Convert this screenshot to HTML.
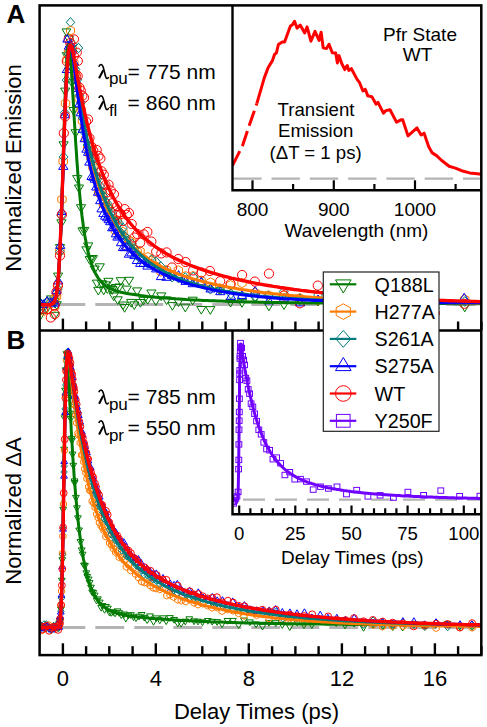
<!DOCTYPE html><html><head><meta charset="utf-8"><style>html,body{margin:0;padding:0;background:#fff;width:487px;height:727px;overflow:hidden}svg{display:block}</style></head><body>
<svg width="487" height="727" viewBox="0 0 487 727" font-family='"Liberation Sans", sans-serif'>
<rect width="487" height="727" fill="#fff"/>
<defs><clipPath id="cA"><rect x="39.6" y="5.4" width="441.7" height="325.0"/></clipPath><clipPath id="cB"><rect x="39.6" y="330.4" width="441.7" height="324.70000000000005"/></clipPath><clipPath id="cC"><rect x="232.5" y="330.4" width="248.8" height="183.89999999999998"/></clipPath><clipPath id="cD"><rect x="232.5" y="5.4" width="248.8" height="184.79999999999998"/></clipPath></defs>
<line x1="39.6" y1="304.6" x2="481.3" y2="304.6" stroke="#b4b4b4" stroke-width="3" stroke-dasharray="29 10" stroke-dashoffset="22.3"/>
<line x1="39.6" y1="627.4" x2="481.3" y2="627.4" stroke="#b4b4b4" stroke-width="3" stroke-dasharray="29 10" stroke-dashoffset="22.3"/>
<g clip-path="url(#cA)">
<g stroke="#007a00" fill="none" stroke-width="1">
<path d="M35.0,313.6h9.2L39.6,321.2z"/>
<path d="M39.0,302.9h9.2L43.6,310.6z"/>
<path d="M42.2,305.5h9.2L46.8,313.2z"/>
<path d="M46.5,295.9h9.2L51.1,303.6z"/>
<path d="M49.7,298.6h9.2L54.3,306.3z"/>
<path d="M50.1,312.3h9.2L54.7,320.0z"/>
<path d="M52.1,301.7h9.2L56.7,309.4z"/>
<path d="M53.5,273.1h9.2L58.1,280.8z"/>
<path d="M55.4,244.6h9.2L60.0,252.3z"/>
<path d="M56.8,219.8h9.2L61.4,227.5z"/>
<path d="M59.0,141.8h9.2L63.6,149.5z"/>
<path d="M60.6,88.1h9.2L65.2,95.8z"/>
<path d="M62.2,52.6h9.2L66.8,60.3z"/>
<path d="M64.3,35.9h9.2L68.9,43.6z"/>
<path d="M65.7,50.4h9.2L70.3,58.0z"/>
<path d="M67.5,79.8h9.2L72.1,87.4z"/>
<path d="M69.0,107.5h9.2L73.6,115.2z"/>
<path d="M71.0,129.7h9.2L75.6,137.4z"/>
<path d="M72.6,175.6h9.2L77.2,183.3z"/>
<path d="M74.4,185.0h9.2L79.0,192.6z"/>
<path d="M76.4,204.7h9.2L81.0,212.4z"/>
<path d="M77.9,227.9h9.2L82.5,235.6z"/>
<path d="M79.7,227.4h9.2L84.3,235.1z"/>
<path d="M81.8,246.8h9.2L86.4,254.5z"/>
<path d="M83.6,242.9h9.2L88.2,250.6z"/>
<path d="M85.1,256.6h9.2L89.7,264.3z"/>
<path d="M86.8,255.7h9.2L91.4,263.3z"/>
<path d="M88.3,255.6h9.2L92.9,263.3z"/>
<path d="M90.0,266.0h9.2L94.6,273.7z"/>
<path d="M92.3,280.1h9.2L96.9,287.8z"/>
<path d="M93.7,287.3h9.2L98.3,295.0z"/>
<path d="M95.2,263.8h9.2L99.8,271.5z"/>
<path d="M97.3,280.7h9.2L101.9,288.4z"/>
<path d="M99.1,287.0h9.2L103.7,294.7z"/>
<path d="M100.8,281.8h9.2L105.4,289.5z"/>
<path d="M102.7,285.8h9.2L107.3,293.4z"/>
<path d="M103.8,278.3h9.2L108.4,286.0z"/>
<path d="M105.9,285.8h9.2L110.5,293.5z"/>
<path d="M107.6,286.7h9.2L112.2,294.4z"/>
<path d="M109.1,293.0h9.2L113.7,300.7z"/>
<path d="M111.2,284.5h9.2L115.8,292.2z"/>
<path d="M113.1,296.8h9.2L117.7,304.5z"/>
<path d="M114.7,284.0h9.2L119.3,291.7z"/>
<path d="M116.2,277.7h9.2L120.8,285.4z"/>
<path d="M118.4,302.0h9.2L123.0,309.7z"/>
<path d="M120.0,304.5h9.2L124.6,312.2z"/>
<path d="M122.1,286.1h9.2L126.7,293.8z"/>
<path d="M124.5,277.3h9.2L129.1,285.0z"/>
<path d="M126.6,299.4h9.2L131.2,307.1z"/>
<path d="M129.7,301.9h9.2L134.3,309.5z"/>
<path d="M132.5,287.9h9.2L137.1,295.6z"/>
<path d="M135.8,299.5h9.2L140.4,307.2z"/>
<path d="M138.9,297.3h9.2L143.5,304.9z"/>
<path d="M143.1,296.5h9.2L147.7,304.2z"/>
<path d="M146.8,290.0h9.2L151.4,297.7z"/>
<path d="M151.2,297.8h9.2L155.8,305.4z"/>
<path d="M156.6,292.9h9.2L161.2,300.6z"/>
<path d="M162.0,296.9h9.2L166.6,304.6z"/>
<path d="M167.8,302.6h9.2L172.4,310.2z"/>
<path d="M173.9,298.9h9.2L178.5,306.6z"/>
<path d="M180.7,304.2h9.2L185.3,311.9z"/>
<path d="M188.1,297.2h9.2L192.7,304.9z"/>
<path d="M196.7,306.5h9.2L201.3,314.1z"/>
<path d="M205.7,306.6h9.2L210.3,314.3z"/>
<path d="M215.6,287.2h9.2L220.2,294.8z"/>
<path d="M225.9,299.3h9.2L230.5,307.0z"/>
<path d="M237.4,299.6h9.2L242.0,307.3z"/>
<path d="M250.4,295.6h9.2L255.0,303.2z"/>
<path d="M264.3,303.1h9.2L268.9,310.8z"/>
<path d="M279.4,301.9h9.2L284.0,309.5z"/>
<path d="M295.3,297.0h9.2L299.9,304.7z"/>
<path d="M313.4,298.3h9.2L318.0,306.0z"/>
<path d="M333.1,309.7h9.2L337.7,317.4z"/>
<path d="M354.0,294.3h9.2L358.6,302.0z"/>
<path d="M377.3,305.5h9.2L381.9,313.2z"/>
<path d="M402.1,309.2h9.2L406.7,316.9z"/>
<path d="M430.0,308.1h9.2L434.6,315.7z"/>
<path d="M460.2,304.1h9.2L464.8,311.8z"/>
</g>
<g stroke="#ff7a00" fill="none" stroke-width="1">
<path d="M39.4,301.5L43.6,303.8L43.6,308.4L39.4,310.7L35.2,308.4L35.2,303.8z"/>
<path d="M43.6,306.5L47.7,308.8L47.7,313.4L43.6,315.7L39.4,313.4L39.4,308.8z"/>
<path d="M47.0,298.5L51.1,300.8L51.1,305.4L47.0,307.7L42.8,305.4L42.8,300.8z"/>
<path d="M51.1,298.9L55.3,301.2L55.3,305.8L51.1,308.1L46.9,305.8L46.9,301.2z"/>
<path d="M54.6,302.0L58.8,304.3L58.8,308.9L54.6,311.2L50.4,308.9L50.4,304.3z"/>
<path d="M54.8,293.4L59.0,295.7L59.0,300.3L54.8,302.6L50.7,300.3L50.7,295.7z"/>
<path d="M56.5,292.2L60.7,294.5L60.7,299.1L56.5,301.4L52.3,299.1L52.3,294.5z"/>
<path d="M58.1,279.9L62.2,282.2L62.2,286.8L58.1,289.1L53.9,286.8L53.9,282.2z"/>
<path d="M59.9,246.7L64.1,249.0L64.1,253.6L59.9,255.9L55.7,253.6L55.7,249.0z"/>
<path d="M62.0,194.8L66.2,197.1L66.2,201.7L62.0,204.0L57.8,201.7L57.8,197.1z"/>
<path d="M63.2,156.8L67.4,159.1L67.4,163.7L63.2,166.0L59.0,163.7L59.0,159.1z"/>
<path d="M65.5,98.8L69.7,101.1L69.7,105.7L65.5,108.0L61.3,105.7L61.3,101.1z"/>
<path d="M67.1,54.9L71.3,57.2L71.3,61.8L67.1,64.1L62.9,61.8L62.9,57.2z"/>
<path d="M68.6,47.4L72.7,49.7L72.7,54.3L68.6,56.6L64.4,54.3L64.4,49.7z"/>
<path d="M70.5,46.3L74.7,48.6L74.7,53.2L70.5,55.5L66.3,53.2L66.3,48.6z"/>
<path d="M72.1,44.0L76.2,46.3L76.2,50.9L72.1,53.2L67.9,50.9L67.9,46.3z"/>
<path d="M73.8,58.3L78.0,60.6L78.0,65.2L73.8,67.5L69.6,65.2L69.6,60.6z"/>
<path d="M75.6,68.8L79.8,71.1L79.8,75.7L75.6,78.0L71.5,75.7L71.5,71.1z"/>
<path d="M77.0,81.0L81.2,83.3L81.2,87.9L77.0,90.2L72.9,87.9L72.9,83.3z"/>
<path d="M79.1,93.8L83.3,96.1L83.3,100.7L79.1,103.0L74.9,100.7L74.9,96.1z"/>
<path d="M81.2,105.5L85.4,107.8L85.4,112.4L81.2,114.7L77.0,112.4L77.0,107.8z"/>
<path d="M82.5,116.3L86.6,118.6L86.6,123.2L82.5,125.5L78.3,123.2L78.3,118.6z"/>
<path d="M84.5,122.3L88.7,124.6L88.7,129.2L84.5,131.5L80.3,129.2L80.3,124.6z"/>
<path d="M86.1,134.1L90.2,136.4L90.2,141.0L86.1,143.3L81.9,141.0L81.9,136.4z"/>
<path d="M87.6,143.1L91.8,145.4L91.8,150.0L87.6,152.3L83.5,150.0L83.5,145.4z"/>
<path d="M89.9,149.4L94.1,151.7L94.1,156.3L89.9,158.6L85.7,156.3L85.7,151.7z"/>
<path d="M91.0,152.7L95.2,155.0L95.2,159.6L91.0,161.9L86.8,159.6L86.8,155.0z"/>
<path d="M92.9,162.7L97.1,165.0L97.1,169.6L92.9,171.9L88.8,169.6L88.8,165.0z"/>
<path d="M95.2,173.0L99.3,175.3L99.3,179.9L95.2,182.2L91.0,179.9L91.0,175.3z"/>
<path d="M96.4,171.7L100.6,174.0L100.6,178.6L96.4,180.9L92.2,178.6L92.2,174.0z"/>
<path d="M98.5,187.2L102.7,189.5L102.7,194.1L98.5,196.4L94.4,194.1L94.4,189.5z"/>
<path d="M100.1,189.1L104.3,191.4L104.3,196.0L100.1,198.3L95.9,196.0L95.9,191.4z"/>
<path d="M102.0,190.5L106.2,192.8L106.2,197.4L102.0,199.7L97.8,197.4L97.8,192.8z"/>
<path d="M103.6,199.8L107.8,202.1L107.8,206.7L103.6,209.0L99.4,206.7L99.4,202.1z"/>
<path d="M105.2,198.5L109.4,200.8L109.4,205.4L105.2,207.7L101.0,205.4L101.0,200.8z"/>
<path d="M107.2,203.5L111.4,205.8L111.4,210.4L107.2,212.7L103.0,210.4L103.0,205.8z"/>
<path d="M108.4,202.7L112.6,205.0L112.6,209.6L108.4,211.9L104.3,209.6L104.3,205.0z"/>
<path d="M110.5,213.5L114.7,215.8L114.7,220.4L110.5,222.7L106.3,220.4L106.3,215.8z"/>
<path d="M112.2,215.7L116.3,218.0L116.3,222.6L112.2,224.9L108.0,222.6L108.0,218.0z"/>
<path d="M114.0,215.5L118.2,217.8L118.2,222.4L114.0,224.7L109.8,222.4L109.8,217.8z"/>
<path d="M115.5,225.9L119.7,228.2L119.7,232.8L115.5,235.1L111.3,232.8L111.3,228.2z"/>
<path d="M117.3,215.7L121.5,218.0L121.5,222.6L117.3,224.9L113.1,222.6L113.1,218.0z"/>
<path d="M119.3,227.9L123.5,230.2L123.5,234.8L119.3,237.1L115.1,234.8L115.1,230.2z"/>
<path d="M120.9,230.3L125.1,232.6L125.1,237.2L120.9,239.5L116.7,237.2L116.7,232.6z"/>
<path d="M122.9,227.3L127.1,229.6L127.1,234.2L122.9,236.5L118.7,234.2L118.7,229.6z"/>
<path d="M124.7,232.9L128.9,235.2L128.9,239.8L124.7,242.1L120.5,239.8L120.5,235.2z"/>
<path d="M126.9,241.9L131.1,244.2L131.1,248.8L126.9,251.1L122.8,248.8L122.8,244.2z"/>
<path d="M129.1,235.7L133.3,238.0L133.3,242.6L129.1,244.9L124.9,242.6L124.9,238.0z"/>
<path d="M131.5,237.4L135.7,239.7L135.7,244.3L131.5,246.6L127.3,244.3L127.3,239.7z"/>
<path d="M133.9,244.6L138.1,246.9L138.1,251.5L133.9,253.8L129.8,251.5L129.8,246.9z"/>
<path d="M137.2,247.0L141.4,249.3L141.4,253.9L137.2,256.2L133.0,253.9L133.0,249.3z"/>
<path d="M140.0,246.6L144.2,248.9L144.2,253.5L140.0,255.8L135.8,253.5L135.8,248.9z"/>
<path d="M143.4,254.3L147.6,256.6L147.6,261.2L143.4,263.5L139.2,261.2L139.2,256.6z"/>
<path d="M147.8,252.5L152.0,254.8L152.0,259.4L147.8,261.7L143.6,259.4L143.6,254.8z"/>
<path d="M151.6,255.9L155.8,258.2L155.8,262.8L151.6,265.1L147.4,262.8L147.4,258.2z"/>
<path d="M156.3,261.8L160.5,264.1L160.5,268.7L156.3,271.0L152.1,268.7L152.1,264.1z"/>
<path d="M161.0,267.0L165.2,269.3L165.2,273.9L161.0,276.2L156.8,273.9L156.8,269.3z"/>
<path d="M166.4,265.3L170.6,267.6L170.6,272.2L166.4,274.5L162.2,272.2L162.2,267.6z"/>
<path d="M171.8,270.0L176.0,272.3L176.0,276.9L171.8,279.2L167.7,276.9L167.7,272.3z"/>
<path d="M178.3,265.7L182.5,268.0L182.5,272.6L178.3,274.9L174.1,272.6L174.1,268.0z"/>
<path d="M185.6,271.4L189.8,273.7L189.8,278.3L185.6,280.6L181.4,278.3L181.4,273.7z"/>
<path d="M193.0,271.4L197.2,273.7L197.2,278.3L193.0,280.6L188.9,278.3L188.9,273.7z"/>
<path d="M201.0,276.0L205.2,278.3L205.2,282.9L201.0,285.2L196.8,282.9L196.8,278.3z"/>
<path d="M210.5,277.9L214.7,280.2L214.7,284.8L210.5,287.1L206.3,284.8L206.3,280.2z"/>
<path d="M219.7,283.7L223.9,286.0L223.9,290.6L219.7,292.9L215.5,290.6L215.5,286.0z"/>
<path d="M230.6,280.5L234.8,282.8L234.8,287.4L230.6,289.7L226.4,287.4L226.4,282.8z"/>
<path d="M242.0,278.4L246.2,280.7L246.2,285.3L242.0,287.6L237.8,285.3L237.8,280.7z"/>
<path d="M255.0,288.0L259.2,290.3L259.2,294.9L255.0,297.2L250.8,294.9L250.8,290.3z"/>
<path d="M268.5,290.7L272.7,293.0L272.7,297.6L268.5,299.9L264.3,297.6L264.3,293.0z"/>
<path d="M283.5,290.8L287.6,293.1L287.6,297.7L283.5,300.0L279.3,297.7L279.3,293.1z"/>
<path d="M299.8,293.5L304.0,295.8L304.0,300.4L299.8,302.7L295.6,300.4L295.6,295.8z"/>
<path d="M317.7,295.7L321.9,298.0L321.9,302.6L317.7,304.9L313.6,302.6L313.6,298.0z"/>
<path d="M337.2,293.8L341.4,296.1L341.4,300.7L337.2,303.0L333.0,300.7L333.0,296.1z"/>
<path d="M358.7,296.5L362.9,298.8L362.9,303.4L358.7,305.7L354.5,303.4L354.5,298.8z"/>
<path d="M381.8,291.1L385.9,293.4L385.9,298.0L381.8,300.3L377.6,298.0L377.6,293.4z"/>
<path d="M407.3,297.2L411.5,299.5L411.5,304.1L407.3,306.4L403.2,304.1L403.2,299.5z"/>
<path d="M434.8,296.6L439.0,298.9L439.0,303.5L434.8,305.8L430.6,303.5L430.6,298.9z"/>
<path d="M464.7,294.9L468.9,297.2L468.9,301.8L464.7,304.1L460.5,301.8L460.5,297.2z"/>
</g>
<g stroke="#007b7b" fill="none" stroke-width="1">
<path d="M39.7,297.5L44.1,302.5L39.7,307.5L35.3,302.5z"/>
<path d="M43.4,302.4L47.7,307.3L43.4,312.3L39.0,307.3z"/>
<path d="M46.7,297.2L51.1,302.1L46.7,307.1L42.4,302.1z"/>
<path d="M50.4,296.7L54.8,301.7L50.4,306.7L46.1,301.7z"/>
<path d="M54.3,297.5L58.6,302.5L54.3,307.4L49.9,302.5z"/>
<path d="M54.5,297.7L58.8,302.7L54.5,307.6L50.1,302.7z"/>
<path d="M56.8,287.9L61.2,292.9L56.8,297.8L52.4,292.9z"/>
<path d="M57.9,284.0L62.2,289.0L57.9,294.0L53.5,289.0z"/>
<path d="M59.9,246.7L64.2,251.7L59.9,256.6L55.5,251.7z"/>
<path d="M61.4,210.6L65.7,215.5L61.4,220.5L57.0,215.5z"/>
<path d="M63.5,152.0L67.9,156.9L63.5,161.9L59.2,156.9z"/>
<path d="M64.9,107.8L69.2,112.8L64.9,117.8L60.5,112.8z"/>
<path d="M66.6,75.1L71.0,80.1L66.6,85.0L62.2,80.1z"/>
<path d="M68.4,48.9L72.7,53.9L68.4,58.9L64.0,53.9z"/>
<path d="M70.2,41.8L74.6,46.7L70.2,51.7L65.9,46.7z"/>
<path d="M72.2,39.3L76.6,44.3L72.2,49.3L67.8,44.3z"/>
<path d="M74.1,63.1L78.5,68.0L74.1,73.0L69.7,68.0z"/>
<path d="M75.5,64.4L79.8,69.4L75.5,74.4L71.1,69.4z"/>
<path d="M77.2,74.9L81.6,79.8L77.2,84.8L72.9,79.8z"/>
<path d="M79.4,90.5L83.7,95.4L79.4,100.4L75.0,95.4z"/>
<path d="M81.0,97.6L85.4,102.6L81.0,107.5L76.7,102.6z"/>
<path d="M82.4,113.0L86.7,117.9L82.4,122.9L78.0,117.9z"/>
<path d="M84.6,127.6L88.9,132.5L84.6,137.5L80.2,132.5z"/>
<path d="M86.3,126.9L90.7,131.9L86.3,136.8L82.0,131.9z"/>
<path d="M87.6,140.0L92.0,145.0L87.6,150.0L83.2,145.0z"/>
<path d="M89.7,145.9L94.0,150.8L89.7,155.8L85.3,150.8z"/>
<path d="M91.1,154.9L95.5,159.9L91.1,164.9L86.7,159.9z"/>
<path d="M92.9,153.7L97.3,158.7L92.9,163.7L88.5,158.7z"/>
<path d="M94.8,161.4L99.2,166.4L94.8,171.3L90.4,166.4z"/>
<path d="M96.6,173.2L100.9,178.2L96.6,183.1L92.2,178.2z"/>
<path d="M98.3,172.8L102.7,177.8L98.3,182.7L93.9,177.8z"/>
<path d="M100.1,181.1L104.4,186.1L100.1,191.0L95.7,186.1z"/>
<path d="M101.6,186.4L106.0,191.4L101.6,196.3L97.2,191.4z"/>
<path d="M103.7,191.5L108.1,196.4L103.7,201.4L99.4,196.4z"/>
<path d="M105.1,196.0L109.5,200.9L105.1,205.9L100.8,200.9z"/>
<path d="M107.3,198.3L111.7,203.3L107.3,208.2L102.9,203.3z"/>
<path d="M108.8,202.7L113.1,207.7L108.8,212.7L104.4,207.7z"/>
<path d="M110.4,208.6L114.7,213.6L110.4,218.5L106.0,213.6z"/>
<path d="M112.0,207.1L116.4,212.0L112.0,217.0L107.7,212.0z"/>
<path d="M114.0,216.8L118.4,221.8L114.0,226.7L109.6,221.8z"/>
<path d="M115.7,216.6L120.0,221.6L115.7,226.5L111.3,221.6z"/>
<path d="M117.6,219.5L121.9,224.4L117.6,229.4L113.2,224.4z"/>
<path d="M119.2,218.4L123.6,223.3L119.2,228.3L114.9,223.3z"/>
<path d="M120.7,227.8L125.0,232.8L120.7,237.8L116.3,232.8z"/>
<path d="M123.0,223.1L127.3,228.1L123.0,233.1L118.6,228.1z"/>
<path d="M124.3,230.8L128.7,235.7L124.3,240.7L119.9,235.7z"/>
<path d="M126.9,235.6L131.3,240.6L126.9,245.6L122.5,240.6z"/>
<path d="M129.2,240.2L133.5,245.2L129.2,250.2L124.8,245.2z"/>
<path d="M131.7,238.7L136.1,243.6L131.7,248.6L127.3,243.6z"/>
<path d="M134.2,243.4L138.6,248.4L134.2,253.3L129.8,248.4z"/>
<path d="M136.8,250.3L141.2,255.2L136.8,260.2L132.4,255.2z"/>
<path d="M140.2,253.6L144.5,258.6L140.2,263.6L135.8,258.6z"/>
<path d="M143.6,254.6L148.0,259.6L143.6,264.6L139.3,259.6z"/>
<path d="M147.6,258.3L151.9,263.2L147.6,268.2L143.2,263.2z"/>
<path d="M151.5,254.8L155.9,259.7L151.5,264.7L147.1,259.7z"/>
<path d="M156.2,256.9L160.6,261.9L156.2,266.8L151.8,261.9z"/>
<path d="M160.8,261.5L165.2,266.5L160.8,271.4L156.4,266.5z"/>
<path d="M166.2,266.3L170.6,271.3L166.2,276.3L161.9,271.3z"/>
<path d="M172.2,272.1L176.6,277.1L172.2,282.0L167.8,277.1z"/>
<path d="M178.5,273.1L182.8,278.0L178.5,283.0L174.1,278.0z"/>
<path d="M185.2,272.6L189.6,277.6L185.2,282.5L180.8,277.6z"/>
<path d="M193.3,272.0L197.7,277.0L193.3,281.9L188.9,277.0z"/>
<path d="M201.4,277.5L205.7,282.5L201.4,287.5L197.0,282.5z"/>
<path d="M210.4,284.1L214.8,289.1L210.4,294.1L206.0,289.1z"/>
<path d="M219.9,285.0L224.2,290.0L219.9,294.9L215.5,290.0z"/>
<path d="M230.9,288.9L235.3,293.8L230.9,298.8L226.6,293.8z"/>
<path d="M242.4,291.7L246.8,296.7L242.4,301.6L238.1,296.7z"/>
<path d="M255.2,291.1L259.6,296.1L255.2,301.1L250.8,296.1z"/>
<path d="M268.5,291.1L272.8,296.0L268.5,301.0L264.1,296.0z"/>
<path d="M283.7,286.5L288.1,291.5L283.7,296.4L279.3,291.5z"/>
<path d="M300.0,293.9L304.4,298.9L300.0,303.8L295.6,298.9z"/>
<path d="M318.0,290.0L322.4,295.0L318.0,300.0L313.7,295.0z"/>
<path d="M337.3,289.3L341.6,294.2L337.3,299.2L332.9,294.2z"/>
<path d="M358.4,296.0L362.8,300.9L358.4,305.9L354.0,300.9z"/>
<path d="M381.8,290.9L386.2,295.8L381.8,300.8L377.4,295.8z"/>
<path d="M407.1,294.5L411.5,299.4L407.1,304.4L402.7,299.4z"/>
<path d="M434.4,298.8L438.8,303.8L434.4,308.7L430.1,303.8z"/>
<path d="M464.8,296.5L469.2,301.5L464.8,306.4L460.4,301.5z"/>
</g>
<g stroke="#0000ff" fill="none" stroke-width="1">
<path d="M35.1,305.2h9.2L39.7,297.5z"/>
<path d="M38.9,307.4h9.2L43.5,299.7z"/>
<path d="M42.7,304.2h9.2L47.3,296.6z"/>
<path d="M46.4,305.7h9.2L51.0,298.1z"/>
<path d="M50.2,306.1h9.2L54.8,298.4z"/>
<path d="M49.8,303.7h9.2L54.4,296.0z"/>
<path d="M51.8,293.6h9.2L56.4,285.9z"/>
<path d="M53.6,283.9h9.2L58.2,276.3z"/>
<path d="M55.6,248.4h9.2L60.2,240.7z"/>
<path d="M57.0,214.6h9.2L61.6,206.9z"/>
<path d="M58.7,169.4h9.2L63.3,161.7z"/>
<path d="M60.2,117.7h9.2L64.8,110.0z"/>
<path d="M62.2,72.5h9.2L66.8,64.8z"/>
<path d="M64.3,49.1h9.2L68.9,41.4z"/>
<path d="M65.5,46.9h9.2L70.1,39.3z"/>
<path d="M67.3,53.1h9.2L71.9,45.4z"/>
<path d="M69.2,64.9h9.2L73.8,57.2z"/>
<path d="M71.1,82.7h9.2L75.7,75.0z"/>
<path d="M72.7,91.4h9.2L77.3,83.8z"/>
<path d="M74.8,106.8h9.2L79.4,99.1z"/>
<path d="M76.1,115.8h9.2L80.7,108.1z"/>
<path d="M78.1,132.3h9.2L82.7,124.6z"/>
<path d="M80.0,141.7h9.2L84.6,134.0z"/>
<path d="M81.8,152.2h9.2L86.4,144.5z"/>
<path d="M83.5,155.4h9.2L88.1,147.7z"/>
<path d="M84.7,165.1h9.2L89.3,157.5z"/>
<path d="M86.9,179.5h9.2L91.5,171.9z"/>
<path d="M88.6,180.2h9.2L93.2,172.6z"/>
<path d="M90.2,182.2h9.2L94.8,174.5z"/>
<path d="M91.6,190.0h9.2L96.2,182.4z"/>
<path d="M93.5,195.3h9.2L98.1,187.6z"/>
<path d="M95.6,203.7h9.2L100.2,196.0z"/>
<path d="M96.9,211.9h9.2L101.5,204.2z"/>
<path d="M98.8,216.6h9.2L103.4,208.9z"/>
<path d="M100.5,219.2h9.2L105.1,211.5z"/>
<path d="M102.6,220.8h9.2L107.2,213.1z"/>
<path d="M104.1,222.7h9.2L108.7,215.0z"/>
<path d="M105.6,224.7h9.2L110.2,217.0z"/>
<path d="M107.6,230.8h9.2L112.2,223.2z"/>
<path d="M109.3,230.4h9.2L113.9,222.7z"/>
<path d="M111.3,236.8h9.2L115.9,229.1z"/>
<path d="M112.8,240.1h9.2L117.4,232.4z"/>
<path d="M114.8,238.9h9.2L119.4,231.2z"/>
<path d="M116.4,245.7h9.2L121.0,238.0z"/>
<path d="M118.4,250.5h9.2L123.0,242.8z"/>
<path d="M120.2,250.7h9.2L124.8,243.0z"/>
<path d="M122.0,249.8h9.2L126.6,242.1z"/>
<path d="M124.3,257.2h9.2L128.9,249.5z"/>
<path d="M126.8,255.9h9.2L131.4,248.2z"/>
<path d="M129.8,258.6h9.2L134.4,250.9z"/>
<path d="M132.2,263.5h9.2L136.8,255.8z"/>
<path d="M135.6,266.4h9.2L140.2,258.7z"/>
<path d="M139.1,266.4h9.2L143.7,258.7z"/>
<path d="M142.8,269.1h9.2L147.4,261.5z"/>
<path d="M147.1,267.1h9.2L151.7,259.4z"/>
<path d="M151.5,271.9h9.2L156.1,264.3z"/>
<path d="M156.3,279.6h9.2L160.9,271.9z"/>
<path d="M161.9,280.3h9.2L166.5,272.6z"/>
<path d="M167.5,278.6h9.2L172.1,271.0z"/>
<path d="M174.0,278.3h9.2L178.6,270.6z"/>
<path d="M181.0,284.4h9.2L185.6,276.7z"/>
<path d="M188.1,286.7h9.2L192.7,279.0z"/>
<path d="M196.5,285.1h9.2L201.1,277.4z"/>
<path d="M205.9,292.0h9.2L210.5,284.3z"/>
<path d="M215.7,294.7h9.2L220.3,287.0z"/>
<path d="M226.4,299.3h9.2L231.0,291.7z"/>
<path d="M237.3,298.6h9.2L241.9,290.9z"/>
<path d="M250.5,294.1h9.2L255.1,286.4z"/>
<path d="M264.4,303.8h9.2L269.0,296.1z"/>
<path d="M279.4,301.2h9.2L284.0,293.6z"/>
<path d="M295.6,305.9h9.2L300.2,298.2z"/>
<path d="M313.5,302.7h9.2L318.1,295.0z"/>
<path d="M333.0,301.4h9.2L337.6,293.7z"/>
<path d="M354.1,304.9h9.2L358.7,297.2z"/>
<path d="M377.4,302.8h9.2L382.0,295.1z"/>
<path d="M402.4,303.1h9.2L407.0,295.4z"/>
<path d="M429.7,304.0h9.2L434.3,296.4z"/>
<path d="M459.6,300.9h9.2L464.2,293.2z"/>
</g>
<g stroke="#ff0000" fill="none" stroke-width="1">
<circle cx="39.7" cy="308.6" r="4.6"/>
<circle cx="43.3" cy="308.6" r="4.6"/>
<circle cx="47.0" cy="309.2" r="4.6"/>
<circle cx="50.8" cy="317.5" r="4.6"/>
<circle cx="54.7" cy="314.1" r="4.6"/>
<circle cx="54.5" cy="305.3" r="4.6"/>
<circle cx="56.5" cy="291.8" r="4.6"/>
<circle cx="57.9" cy="285.6" r="4.6"/>
<circle cx="60.0" cy="255.6" r="4.6"/>
<circle cx="61.9" cy="214.6" r="4.6"/>
<circle cx="63.8" cy="133.2" r="4.6"/>
<circle cx="65.2" cy="116.3" r="4.6"/>
<circle cx="66.8" cy="61.3" r="4.6"/>
<circle cx="68.7" cy="39.0" r="4.6"/>
<circle cx="70.3" cy="43.0" r="4.6"/>
<circle cx="71.9" cy="51.9" r="4.6"/>
<circle cx="73.9" cy="56.1" r="4.6"/>
<circle cx="75.8" cy="76.2" r="4.6"/>
<circle cx="77.7" cy="76.1" r="4.6"/>
<circle cx="79.5" cy="87.7" r="4.6"/>
<circle cx="80.8" cy="90.6" r="4.6"/>
<circle cx="82.4" cy="95.7" r="4.6"/>
<circle cx="84.1" cy="97.6" r="4.6"/>
<circle cx="86.1" cy="121.7" r="4.6"/>
<circle cx="88.1" cy="119.5" r="4.6"/>
<circle cx="89.4" cy="138.1" r="4.6"/>
<circle cx="91.6" cy="146.8" r="4.6"/>
<circle cx="93.2" cy="150.6" r="4.6"/>
<circle cx="94.6" cy="157.8" r="4.6"/>
<circle cx="96.7" cy="150.0" r="4.6"/>
<circle cx="98.5" cy="156.0" r="4.6"/>
<circle cx="100.4" cy="158.6" r="4.6"/>
<circle cx="101.6" cy="171.3" r="4.6"/>
<circle cx="103.8" cy="174.7" r="4.6"/>
<circle cx="105.5" cy="185.1" r="4.6"/>
<circle cx="106.8" cy="192.4" r="4.6"/>
<circle cx="108.6" cy="184.7" r="4.6"/>
<circle cx="110.8" cy="190.6" r="4.6"/>
<circle cx="112.2" cy="203.3" r="4.6"/>
<circle cx="113.9" cy="194.2" r="4.6"/>
<circle cx="115.9" cy="214.8" r="4.6"/>
<circle cx="117.2" cy="205.8" r="4.6"/>
<circle cx="119.2" cy="212.4" r="4.6"/>
<circle cx="120.9" cy="214.2" r="4.6"/>
<circle cx="122.7" cy="221.1" r="4.6"/>
<circle cx="124.7" cy="209.1" r="4.6"/>
<circle cx="126.8" cy="214.8" r="4.6"/>
<circle cx="128.9" cy="213.0" r="4.6"/>
<circle cx="131.7" cy="224.0" r="4.6"/>
<circle cx="134.3" cy="237.5" r="4.6"/>
<circle cx="137.3" cy="234.0" r="4.6"/>
<circle cx="140.2" cy="242.7" r="4.6"/>
<circle cx="143.8" cy="234.3" r="4.6"/>
<circle cx="147.4" cy="231.9" r="4.6"/>
<circle cx="151.4" cy="241.5" r="4.6"/>
<circle cx="156.2" cy="251.7" r="4.6"/>
<circle cx="161.3" cy="253.4" r="4.6"/>
<circle cx="166.6" cy="252.4" r="4.6"/>
<circle cx="172.0" cy="267.5" r="4.6"/>
<circle cx="178.3" cy="259.0" r="4.6"/>
<circle cx="185.6" cy="262.0" r="4.6"/>
<circle cx="193.1" cy="270.4" r="4.6"/>
<circle cx="201.5" cy="272.5" r="4.6"/>
<circle cx="209.9" cy="271.0" r="4.6"/>
<circle cx="220.2" cy="281.2" r="4.6"/>
<circle cx="230.6" cy="283.9" r="4.6"/>
<circle cx="242.1" cy="275.0" r="4.6"/>
<circle cx="254.8" cy="281.6" r="4.6"/>
<circle cx="269.0" cy="273.6" r="4.6"/>
<circle cx="284.0" cy="295.3" r="4.6"/>
<circle cx="299.8" cy="303.3" r="4.6"/>
<circle cx="317.8" cy="285.6" r="4.6"/>
<circle cx="337.6" cy="287.4" r="4.6"/>
<circle cx="358.3" cy="301.5" r="4.6"/>
<circle cx="381.5" cy="308.4" r="4.6"/>
<circle cx="406.7" cy="299.4" r="4.6"/>
<circle cx="434.8" cy="313.1" r="4.6"/>
<circle cx="464.3" cy="303.8" r="4.6"/>
</g>
<path d="M35.1,304.6 35.5,304.6 36.0,304.6 36.5,304.6 36.9,304.6 37.4,304.6 37.9,304.6 38.3,304.6 38.8,304.6 39.3,304.6 39.7,304.6 40.2,304.6 40.6,304.6 41.1,304.6 41.6,304.6 42.0,304.6 42.5,304.6 43.0,304.6 43.4,304.6 43.9,304.6 44.4,304.6 44.8,304.6 45.3,304.6 45.8,304.6 46.2,304.6 46.7,304.6 47.2,304.6 47.6,304.6 48.1,304.6 48.6,304.6 49.0,304.6 49.5,304.6 49.9,304.6 50.4,304.6 50.9,304.5 51.3,304.5 51.8,304.4 52.3,304.3 52.7,304.1 53.2,303.8 53.7,303.5 54.1,303.0 54.6,302.3 55.1,301.3 55.5,300.1 56.0,298.4 56.5,296.2 56.9,293.5 57.4,290.0 57.9,285.7 58.3,280.4 58.8,274.1 59.2,266.7 59.7,258.0 60.2,248.1 60.6,236.9 61.1,224.6 61.6,211.2 62.0,196.8 62.5,181.7 63.0,166.1 63.4,150.3 63.9,134.7 64.4,119.5 64.8,105.0 65.3,91.7 65.8,79.7 66.2,69.3 66.7,60.6 67.2,53.9 67.6,49.0 68.1,46.1 68.5,45.0 69.0,45.7 69.5,47.9 69.9,51.6 70.4,56.5 70.9,62.4 71.3,69.1 71.8,76.4 72.3,84.1 72.7,92.1 73.2,100.3 73.7,108.5 74.1,116.6 74.6,124.5 75.1,132.3 75.5,139.8 76.0,147.0 76.5,154.0 76.9,160.6 77.4,167.0 77.8,173.1 78.3,178.9 78.8,184.4 79.2,189.6 79.7,194.6 80.2,199.3 80.6,203.8 81.1,208.1 81.6,212.2 82.0,216.0 82.5,219.7 83.0,223.2 83.4,226.5 83.9,229.6 84.4,232.6 84.8,235.5 85.3,238.2 85.8,240.8 86.2,243.2 86.7,245.5 87.1,247.7 87.6,249.8 88.1,251.8 88.5,253.7 89.0,255.5 89.5,257.3 89.9,258.9 90.4,260.5 90.9,261.9 91.3,263.4 91.8,264.7 92.3,266.0 92.7,267.2 93.2,268.4 93.7,269.5 94.1,270.5 94.6,271.5 95.1,272.5 95.5,273.4 96.0,274.3 96.4,275.1 96.9,275.9 97.4,276.7 97.8,277.4 98.3,278.1 98.8,278.7 99.2,279.4 99.7,280.0 100.2,280.5 100.6,281.1 101.1,281.6 101.6,282.1 102.0,282.6 102.5,283.1 103.0,283.5 103.4,283.9 103.9,284.3 104.4,284.7 104.8,285.1 105.3,285.4 105.7,285.8 106.2,286.1 106.7,286.4 107.1,286.7 107.6,287.0 108.1,287.3 108.5,287.6 109.0,287.8 109.5,288.1 113.0,289.7 116.4,291.0 119.9,292.0 123.4,292.8 126.9,293.5 130.4,294.1 133.9,294.6 137.4,295.1 140.9,295.6 144.3,296.0 147.8,296.4 151.3,296.7 154.8,297.1 158.3,297.4 161.8,297.7 165.3,298.0 168.8,298.3 172.2,298.5 175.7,298.8 179.2,299.0 182.7,299.2 186.2,299.5 189.7,299.7 193.2,299.9 196.7,300.0 200.1,300.2 203.6,300.4 207.1,300.5 210.6,300.7 214.1,300.8 217.6,301.0 221.1,301.1 224.6,301.2 228.0,301.4 231.5,301.5 235.0,301.6 238.5,301.7 242.0,301.8 245.5,301.9 249.0,302.0 252.5,302.1 255.9,302.1 259.4,302.2 262.9,302.3 266.4,302.4 269.9,302.4 273.4,302.5 276.9,302.5 280.4,302.6 283.8,302.7 287.3,302.7 290.8,302.8 294.3,302.8 297.8,302.8 301.3,302.9 304.8,302.9 308.3,303.0 311.7,303.0 315.2,303.0 318.7,303.1 322.2,303.1 325.7,303.1 329.2,303.2 332.7,303.2 336.2,303.2 339.6,303.2 343.1,303.3 346.6,303.3 350.1,303.3 353.6,303.3 357.1,303.4 360.6,303.4 364.1,303.4 367.5,303.4 371.0,303.4 374.5,303.4 378.0,303.5 381.5,303.5 385.0,303.5 388.5,303.5 392.0,303.5 395.4,303.5 398.9,303.5 402.4,303.5 405.9,303.6 409.4,303.6 412.9,303.6 416.4,303.6 419.9,303.6 423.3,303.6 426.8,303.6 430.3,303.6 433.8,303.6 437.3,303.6 440.8,303.6 444.3,303.6 447.8,303.6 451.2,303.6 454.7,303.7 458.2,303.7 461.7,303.7 465.2,303.7 468.7,303.7 472.2,303.7 475.7,303.7 479.1,303.7 482.6,303.7" stroke="#007a00" stroke-width="3" fill="none" stroke-linejoin="round"/>
<path d="M35.1,304.6 35.5,304.6 36.0,304.6 36.5,304.6 36.9,304.6 37.4,304.6 37.9,304.6 38.3,304.6 38.8,304.6 39.3,304.6 39.7,304.6 40.2,304.6 40.6,304.6 41.1,304.6 41.6,304.6 42.0,304.6 42.5,304.6 43.0,304.6 43.4,304.6 43.9,304.6 44.4,304.6 44.8,304.6 45.3,304.6 45.8,304.6 46.2,304.6 46.7,304.6 47.2,304.6 47.6,304.6 48.1,304.6 48.6,304.6 49.0,304.6 49.5,304.6 49.9,304.5 50.4,304.5 50.9,304.5 51.3,304.4 51.8,304.2 52.3,304.1 52.7,303.8 53.2,303.5 53.7,303.0 54.1,302.3 54.6,301.4 55.1,300.3 55.5,298.7 56.0,296.8 56.5,294.3 56.9,291.2 57.4,287.4 57.9,282.8 58.3,277.3 58.8,270.8 59.2,263.4 59.7,254.8 60.2,245.2 60.6,234.6 61.1,223.1 61.6,210.6 62.0,197.5 62.5,183.9 63.0,169.9 63.4,155.8 63.9,141.9 64.4,128.3 64.8,115.3 65.3,103.1 65.8,91.9 66.2,81.8 66.7,72.9 67.2,65.2 67.6,58.9 68.1,53.8 68.5,50.0 69.0,47.3 69.5,45.7 69.9,45.0 70.4,45.2 70.9,46.1 71.3,47.6 71.8,49.6 72.3,52.0 72.7,54.6 73.2,57.6 73.7,60.6 74.1,63.8 74.6,67.1 75.1,70.4 75.5,73.7 76.0,77.0 76.5,80.3 76.9,83.5 77.4,86.7 77.8,89.8 78.3,92.9 78.8,96.0 79.2,98.9 79.7,101.9 80.2,104.8 80.6,107.6 81.1,110.4 81.6,113.1 82.0,115.8 82.5,118.4 83.0,121.0 83.4,123.5 83.9,126.0 84.4,128.5 84.8,130.9 85.3,133.2 85.8,135.5 86.2,137.8 86.7,140.0 87.1,142.2 87.6,144.4 88.1,146.5 88.5,148.6 89.0,150.6 89.5,152.6 89.9,154.6 90.4,156.5 90.9,158.4 91.3,160.2 91.8,162.1 92.3,163.9 92.7,165.6 93.2,167.4 93.7,169.1 94.1,170.8 94.6,172.4 95.1,174.0 95.5,175.6 96.0,177.2 96.4,178.7 96.9,180.2 97.4,181.7 97.8,183.2 98.3,184.6 98.8,186.0 99.2,187.4 99.7,188.8 100.2,190.1 100.6,191.4 101.1,192.7 101.6,194.0 102.0,195.3 102.5,196.5 103.0,197.7 103.4,198.9 103.9,200.1 104.4,201.2 104.8,202.3 105.3,203.5 105.7,204.6 106.2,205.6 106.7,206.7 107.1,207.7 107.6,208.8 108.1,209.8 108.5,210.8 109.0,211.8 109.5,212.7 113.0,219.5 116.4,225.5 119.9,230.9 123.4,235.7 126.9,240.0 130.4,243.9 133.9,247.5 137.4,250.7 140.9,253.6 144.3,256.3 147.8,258.8 151.3,261.0 154.8,263.1 158.3,265.1 161.8,266.9 165.3,268.6 168.8,270.1 172.2,271.6 175.7,273.0 179.2,274.3 182.7,275.6 186.2,276.7 189.7,277.8 193.2,278.9 196.7,279.9 200.1,280.8 203.6,281.8 207.1,282.6 210.6,283.4 214.1,284.2 217.6,285.0 221.1,285.7 224.6,286.4 228.0,287.1 231.5,287.7 235.0,288.3 238.5,288.9 242.0,289.5 245.5,290.0 249.0,290.6 252.5,291.1 255.9,291.6 259.4,292.0 262.9,292.5 266.4,292.9 269.9,293.3 273.4,293.7 276.9,294.1 280.4,294.5 283.8,294.8 287.3,295.2 290.8,295.5 294.3,295.8 297.8,296.1 301.3,296.4 304.8,296.7 308.3,297.0 311.7,297.3 315.2,297.5 318.7,297.8 322.2,298.0 325.7,298.2 329.2,298.5 332.7,298.7 336.2,298.9 339.6,299.1 343.1,299.3 346.6,299.5 350.1,299.6 353.6,299.8 357.1,300.0 360.6,300.1 364.1,300.3 367.5,300.4 371.0,300.6 374.5,300.7 378.0,300.8 381.5,301.0 385.0,301.1 388.5,301.2 392.0,301.3 395.4,301.4 398.9,301.5 402.4,301.6 405.9,301.7 409.4,301.8 412.9,301.9 416.4,302.0 419.9,302.1 423.3,302.2 426.8,302.2 430.3,302.3 433.8,302.4 437.3,302.5 440.8,302.5 444.3,302.6 447.8,302.7 451.2,302.7 454.7,302.8 458.2,302.8 461.7,302.9 465.2,302.9 468.7,303.0 472.2,303.0 475.7,303.1 479.1,303.1 482.6,303.2" stroke="#ff7a00" stroke-width="3" fill="none" stroke-linejoin="round"/>
<path d="M35.1,304.6 35.5,304.6 36.0,304.6 36.5,304.6 36.9,304.6 37.4,304.6 37.9,304.6 38.3,304.6 38.8,304.6 39.3,304.6 39.7,304.6 40.2,304.6 40.6,304.6 41.1,304.6 41.6,304.6 42.0,304.6 42.5,304.6 43.0,304.6 43.4,304.6 43.9,304.6 44.4,304.6 44.8,304.6 45.3,304.6 45.8,304.6 46.2,304.6 46.7,304.6 47.2,304.6 47.6,304.6 48.1,304.6 48.6,304.6 49.0,304.6 49.5,304.6 49.9,304.5 50.4,304.5 50.9,304.4 51.3,304.4 51.8,304.2 52.3,304.1 52.7,303.8 53.2,303.5 53.7,303.0 54.1,302.3 54.6,301.4 55.1,300.3 55.5,298.7 56.0,296.8 56.5,294.3 56.9,291.2 57.4,287.5 57.9,282.9 58.3,277.4 58.8,271.0 59.2,263.6 59.7,255.1 60.2,245.6 60.6,235.0 61.1,223.5 61.6,211.2 62.0,198.2 62.5,184.6 63.0,170.7 63.4,156.7 63.9,142.9 64.4,129.3 64.8,116.4 65.3,104.2 65.8,92.9 66.2,82.8 66.7,73.8 67.2,66.1 67.6,59.7 68.1,54.5 68.5,50.5 69.0,47.7 69.5,45.9 69.9,45.1 70.4,45.1 70.9,45.8 71.3,47.1 71.8,48.9 72.3,51.1 72.7,53.7 73.2,56.4 73.7,59.3 74.1,62.4 74.6,65.5 75.1,68.6 75.5,71.8 76.0,74.9 76.5,78.1 76.9,81.2 77.4,84.3 77.8,87.3 78.3,90.3 78.8,93.2 79.2,96.1 79.7,99.0 80.2,101.8 80.6,104.5 81.1,107.2 81.6,109.9 82.0,112.5 82.5,115.1 83.0,117.6 83.4,120.1 83.9,122.5 84.4,124.9 84.8,127.3 85.3,129.6 85.8,131.9 86.2,134.1 86.7,136.3 87.1,138.5 87.6,140.6 88.1,142.7 88.5,144.8 89.0,146.8 89.5,148.8 89.9,150.8 90.4,152.7 90.9,154.6 91.3,156.4 91.8,158.3 92.3,160.1 92.7,161.9 93.2,163.6 93.7,165.3 94.1,167.0 94.6,168.7 95.1,170.3 95.5,171.9 96.0,173.5 96.4,175.1 96.9,176.6 97.4,178.2 97.8,179.6 98.3,181.1 98.8,182.6 99.2,184.0 99.7,185.4 100.2,186.8 100.6,188.1 101.1,189.4 101.6,190.8 102.0,192.1 102.5,193.3 103.0,194.6 103.4,195.8 103.9,197.0 104.4,198.2 104.8,199.4 105.3,200.6 105.7,201.7 106.2,202.9 106.7,204.0 107.1,205.1 107.6,206.2 108.1,207.2 108.5,208.3 109.0,209.3 109.5,210.3 113.0,217.5 116.4,224.0 119.9,229.8 123.4,235.1 126.9,239.9 130.4,244.2 133.9,248.2 137.4,251.8 140.9,255.1 144.3,258.2 147.8,261.0 151.3,263.6 154.8,265.9 158.3,268.1 161.8,270.2 165.3,272.1 168.8,273.9 172.2,275.5 175.7,277.1 179.2,278.5 182.7,279.9 186.2,281.1 189.7,282.3 193.2,283.5 196.7,284.5 200.1,285.5 203.6,286.4 207.1,287.3 210.6,288.1 214.1,288.9 217.6,289.6 221.1,290.3 224.6,291.0 228.0,291.6 231.5,292.2 235.0,292.7 238.5,293.3 242.0,293.8 245.5,294.2 249.0,294.7 252.5,295.1 255.9,295.5 259.4,295.9 262.9,296.2 266.4,296.6 269.9,296.9 273.4,297.2 276.9,297.5 280.4,297.8 283.8,298.0 287.3,298.3 290.8,298.5 294.3,298.7 297.8,298.9 301.3,299.1 304.8,299.3 308.3,299.5 311.7,299.7 315.2,299.8 318.7,300.0 322.2,300.1 325.7,300.2 329.2,300.4 332.7,300.5 336.2,300.6 339.6,300.7 343.1,300.8 346.6,300.9 350.1,301.0 353.6,301.1 357.1,301.2 360.6,301.3 364.1,301.3 367.5,301.4 371.0,301.5 374.5,301.6 378.0,301.6 381.5,301.7 385.0,301.7 388.5,301.8 392.0,301.8 395.4,301.9 398.9,301.9 402.4,302.0 405.9,302.0 409.4,302.0 412.9,302.1 416.4,302.1 419.9,302.1 423.3,302.2 426.8,302.2 430.3,302.2 433.8,302.3 437.3,302.3 440.8,302.3 444.3,302.3 447.8,302.4 451.2,302.4 454.7,302.4 458.2,302.4 461.7,302.4 465.2,302.4 468.7,302.5 472.2,302.5 475.7,302.5 479.1,302.5 482.6,302.5" stroke="#007b7b" stroke-width="3" fill="none" stroke-linejoin="round"/>
<path d="M35.1,304.6 35.5,304.6 36.0,304.6 36.5,304.6 36.9,304.6 37.4,304.6 37.9,304.6 38.3,304.6 38.8,304.6 39.3,304.6 39.7,304.6 40.2,304.6 40.6,304.6 41.1,304.6 41.6,304.6 42.0,304.6 42.5,304.6 43.0,304.6 43.4,304.6 43.9,304.6 44.4,304.6 44.8,304.6 45.3,304.6 45.8,304.6 46.2,304.6 46.7,304.6 47.2,304.6 47.6,304.6 48.1,304.6 48.6,304.6 49.0,304.6 49.5,304.6 49.9,304.5 50.4,304.5 50.9,304.4 51.3,304.3 51.8,304.2 52.3,304.0 52.7,303.7 53.2,303.3 53.7,302.7 54.1,302.0 54.6,301.1 55.1,299.8 55.5,298.2 56.0,296.2 56.5,293.6 56.9,290.5 57.4,286.7 57.9,282.1 58.3,276.6 58.8,270.3 59.2,262.9 59.7,254.6 60.2,245.2 60.6,234.9 61.1,223.7 61.6,211.6 62.0,198.8 62.5,185.5 63.0,171.9 63.4,158.1 63.9,144.3 64.4,130.9 64.8,117.9 65.3,105.7 65.8,94.4 66.2,84.0 66.7,74.8 67.2,66.9 67.6,60.2 68.1,54.8 68.5,50.7 69.0,47.7 69.5,45.9 69.9,45.1 70.4,45.2 70.9,46.1 71.3,47.6 71.8,49.8 72.3,52.4 72.7,55.4 73.2,58.7 73.7,62.2 74.1,65.8 74.6,69.5 75.1,73.3 75.5,77.1 76.0,80.8 76.5,84.6 76.9,88.3 77.4,91.9 77.8,95.5 78.3,99.0 78.8,102.5 79.2,105.8 79.7,109.1 80.2,112.3 80.6,115.5 81.1,118.6 81.6,121.6 82.0,124.5 82.5,127.4 83.0,130.2 83.4,133.0 83.9,135.6 84.4,138.3 84.8,140.8 85.3,143.4 85.8,145.8 86.2,148.2 86.7,150.6 87.1,152.9 87.6,155.1 88.1,157.3 88.5,159.5 89.0,161.6 89.5,163.6 89.9,165.7 90.4,167.6 90.9,169.6 91.3,171.5 91.8,173.3 92.3,175.1 92.7,176.9 93.2,178.7 93.7,180.4 94.1,182.1 94.6,183.7 95.1,185.3 95.5,186.9 96.0,188.4 96.4,189.9 96.9,191.4 97.4,192.9 97.8,194.3 98.3,195.7 98.8,197.1 99.2,198.4 99.7,199.7 100.2,201.0 100.6,202.3 101.1,203.5 101.6,204.8 102.0,206.0 102.5,207.1 103.0,208.3 103.4,209.4 103.9,210.5 104.4,211.6 104.8,212.7 105.3,213.8 105.7,214.8 106.2,215.8 106.7,216.8 107.1,217.8 107.6,218.8 108.1,219.7 108.5,220.6 109.0,221.5 109.5,222.4 113.0,228.7 116.4,234.3 119.9,239.3 123.4,243.7 126.9,247.8 130.4,251.4 133.9,254.7 137.4,257.7 140.9,260.5 144.3,263.0 147.8,265.4 151.3,267.6 154.8,269.6 158.3,271.5 161.8,273.3 165.3,275.0 168.8,276.5 172.2,278.0 175.7,279.3 179.2,280.6 182.7,281.8 186.2,283.0 189.7,284.1 193.2,285.1 196.7,286.0 200.1,286.9 203.6,287.8 207.1,288.6 210.6,289.4 214.1,290.1 217.6,290.8 221.1,291.4 224.6,292.1 228.0,292.6 231.5,293.2 235.0,293.7 238.5,294.2 242.0,294.7 245.5,295.1 249.0,295.5 252.5,295.9 255.9,296.3 259.4,296.7 262.9,297.0 266.4,297.3 269.9,297.6 273.4,297.9 276.9,298.2 280.4,298.4 283.8,298.7 287.3,298.9 290.8,299.1 294.3,299.3 297.8,299.5 301.3,299.7 304.8,299.9 308.3,300.1 311.7,300.2 315.2,300.4 318.7,300.5 322.2,300.6 325.7,300.8 329.2,300.9 332.7,301.0 336.2,301.1 339.6,301.2 343.1,301.3 346.6,301.4 350.1,301.5 353.6,301.6 357.1,301.6 360.6,301.7 364.1,301.8 367.5,301.9 371.0,301.9 374.5,302.0 378.0,302.0 381.5,302.1 385.0,302.1 388.5,302.2 392.0,302.2 395.4,302.3 398.9,302.3 402.4,302.4 405.9,302.4 409.4,302.4 412.9,302.5 416.4,302.5 419.9,302.5 423.3,302.5 426.8,302.6 430.3,302.6 433.8,302.6 437.3,302.6 440.8,302.7 444.3,302.7 447.8,302.7 451.2,302.7 454.7,302.7 458.2,302.8 461.7,302.8 465.2,302.8 468.7,302.8 472.2,302.8 475.7,302.8 479.1,302.8 482.6,302.8" stroke="#0000ff" stroke-width="3" fill="none" stroke-linejoin="round"/>
<path d="M35.1,304.6 35.5,304.6 36.0,304.6 36.5,304.6 36.9,304.6 37.4,304.6 37.9,304.6 38.3,304.6 38.8,304.6 39.3,304.6 39.7,304.6 40.2,304.6 40.6,304.6 41.1,304.6 41.6,304.6 42.0,304.6 42.5,304.6 43.0,304.6 43.4,304.6 43.9,304.6 44.4,304.6 44.8,304.6 45.3,304.6 45.8,304.6 46.2,304.6 46.7,304.6 47.2,304.6 47.6,304.6 48.1,304.6 48.6,304.6 49.0,304.6 49.5,304.6 49.9,304.5 50.4,304.5 50.9,304.4 51.3,304.3 51.8,304.2 52.3,304.0 52.7,303.8 53.2,303.4 53.7,302.9 54.1,302.2 54.6,301.2 55.1,300.0 55.5,298.4 56.0,296.4 56.5,293.9 56.9,290.7 57.4,286.8 57.9,282.1 58.3,276.6 58.8,270.1 59.2,262.6 59.7,254.1 60.2,244.5 60.6,234.0 61.1,222.5 61.6,210.3 62.0,197.4 62.5,184.0 63.0,170.3 63.4,156.5 63.9,142.9 64.4,129.6 64.8,116.9 65.3,104.9 65.8,93.9 66.2,83.9 66.7,75.1 67.2,67.4 67.6,61.0 68.1,55.7 68.5,51.6 69.0,48.6 69.5,46.5 69.9,45.4 70.4,45.0 70.9,45.3 71.3,46.1 71.8,47.5 72.3,49.1 72.7,51.1 73.2,53.3 73.7,55.7 74.1,58.2 74.6,60.8 75.1,63.4 75.5,66.0 76.0,68.6 76.5,71.3 76.9,73.9 77.4,76.5 77.8,79.1 78.3,81.6 78.8,84.1 79.2,86.6 79.7,89.0 80.2,91.4 80.6,93.8 81.1,96.1 81.6,98.4 82.0,100.6 82.5,102.9 83.0,105.1 83.4,107.2 83.9,109.3 84.4,111.4 84.8,113.5 85.3,115.5 85.8,117.5 86.2,119.5 86.7,121.5 87.1,123.4 87.6,125.3 88.1,127.1 88.5,129.0 89.0,130.8 89.5,132.6 89.9,134.3 90.4,136.1 90.9,137.8 91.3,139.5 91.8,141.1 92.3,142.8 92.7,144.4 93.2,146.0 93.7,147.5 94.1,149.1 94.6,150.6 95.1,152.1 95.5,153.6 96.0,155.1 96.4,156.5 96.9,157.9 97.4,159.3 97.8,160.7 98.3,162.1 98.8,163.4 99.2,164.7 99.7,166.0 100.2,167.3 100.6,168.6 101.1,169.9 101.6,171.1 102.0,172.3 102.5,173.5 103.0,174.7 103.4,175.9 103.9,177.0 104.4,178.2 104.8,179.3 105.3,180.4 105.7,181.5 106.2,182.6 106.7,183.7 107.1,184.7 107.6,185.7 108.1,186.8 108.5,187.8 109.0,188.8 109.5,189.8 113.0,196.8 116.4,203.1 119.9,208.9 123.4,214.2 126.9,219.0 130.4,223.5 133.9,227.5 137.4,231.3 140.9,234.7 144.3,238.0 147.8,240.9 151.3,243.7 154.8,246.3 158.3,248.7 161.8,251.0 165.3,253.1 168.8,255.1 172.2,257.0 175.7,258.7 179.2,260.4 182.7,262.0 186.2,263.5 189.7,265.0 193.2,266.3 196.7,267.6 200.1,268.9 203.6,270.1 207.1,271.2 210.6,272.3 214.1,273.4 217.6,274.4 221.1,275.4 224.6,276.3 228.0,277.2 231.5,278.1 235.0,278.9 238.5,279.7 242.0,280.5 245.5,281.2 249.0,282.0 252.5,282.6 255.9,283.3 259.4,284.0 262.9,284.6 266.4,285.2 269.9,285.8 273.4,286.4 276.9,286.9 280.4,287.5 283.8,288.0 287.3,288.5 290.8,289.0 294.3,289.5 297.8,289.9 301.3,290.4 304.8,290.8 308.3,291.2 311.7,291.6 315.2,292.0 318.7,292.4 322.2,292.7 325.7,293.1 329.2,293.4 332.7,293.8 336.2,294.1 339.6,294.4 343.1,294.7 346.6,295.0 350.1,295.3 353.6,295.6 357.1,295.9 360.6,296.1 364.1,296.4 367.5,296.6 371.0,296.9 374.5,297.1 378.0,297.3 381.5,297.5 385.0,297.7 388.5,297.9 392.0,298.1 395.4,298.3 398.9,298.5 402.4,298.7 405.9,298.9 409.4,299.1 412.9,299.2 416.4,299.4 419.9,299.5 423.3,299.7 426.8,299.8 430.3,300.0 433.8,300.1 437.3,300.2 440.8,300.4 444.3,300.5 447.8,300.6 451.2,300.7 454.7,300.9 458.2,301.0 461.7,301.1 465.2,301.2 468.7,301.3 472.2,301.4 475.7,301.5 479.1,301.6 482.6,301.7" stroke="#ff0000" stroke-width="3.4" fill="none" stroke-linejoin="round"/>
</g>
<g stroke="#007b7b" fill="none" stroke-width="1"><path d="M70.5,17.5L74.7,22.3L70.5,27.1L66.3,22.3z"/></g>
<g stroke="#ff7a00" fill="none" stroke-width="1"><path d="M70.5,26.1L74.5,28.3L74.5,32.7L70.5,34.9L66.5,32.7L66.5,28.3z"/></g>
<g stroke="#007a00" fill="none" stroke-width="1"><path d="M62.0,28.9h8.8L66.4,36.3z"/></g>
<g stroke="#0000ff" fill="none" stroke-width="1"><path d="M62.8,42.1h8.8L67.2,34.7z"/></g>
<g stroke="#ff0000" fill="none" stroke-width="1"><circle cx="74.2" cy="39.2" r="4.4"/></g>
<g stroke="#ff0000" fill="none" stroke-width="1"><circle cx="77.0" cy="52.5" r="4.4"/></g>
<g stroke="#ff0000" fill="none" stroke-width="1"><circle cx="78.0" cy="61.0" r="4.4"/></g>
<g stroke="#007b7b" fill="none" stroke-width="1"><path d="M78.5,43.2L82.7,48.0L78.5,52.8L74.3,48.0z"/></g>
<g clip-path="url(#cB)">
<g stroke="#007a00" fill="none" stroke-width="1">
<path d="M36.0,624.2h6.8L39.4,629.9z"/>
<path d="M38.4,624.1h6.8L41.8,629.8z"/>
<path d="M41.1,626.5h6.8L44.5,632.2z"/>
<path d="M42.9,626.3h6.8L46.3,632.0z"/>
<path d="M45.6,626.3h6.8L49.0,631.9z"/>
<path d="M48.0,627.6h6.8L51.4,633.3z"/>
<path d="M49.9,626.4h6.8L53.3,632.0z"/>
<path d="M52.2,625.5h6.8L55.6,631.2z"/>
<path d="M54.6,624.0h6.8L58.0,629.7z"/>
<path d="M55.6,621.8h6.8L59.0,627.5z"/>
<path d="M56.2,623.0h6.8L59.6,628.7z"/>
<path d="M56.6,618.0h6.8L60.0,623.6z"/>
<path d="M57.5,607.0h6.8L60.9,612.7z"/>
<path d="M58.4,578.2h6.8L61.8,583.8z"/>
<path d="M58.9,557.7h6.8L62.3,563.4z"/>
<path d="M59.8,507.3h6.8L63.2,513.0z"/>
<path d="M60.7,447.2h6.8L64.1,452.9z"/>
<path d="M61.2,415.8h6.8L64.6,421.5z"/>
<path d="M61.7,388.2h6.8L65.1,393.9z"/>
<path d="M62.3,367.8h6.8L65.7,373.5z"/>
<path d="M63.1,351.7h6.8L66.5,357.4z"/>
<path d="M63.9,356.0h6.8L67.3,361.7z"/>
<path d="M64.8,366.4h6.8L68.2,372.1z"/>
<path d="M65.5,381.3h6.8L68.9,386.9z"/>
<path d="M65.8,384.8h6.8L69.2,390.5z"/>
<path d="M67.0,411.2h6.8L70.4,416.9z"/>
<path d="M67.3,416.4h6.8L70.7,422.1z"/>
<path d="M68.2,436.3h6.8L71.6,442.0z"/>
<path d="M68.5,438.3h6.8L71.9,444.0z"/>
<path d="M69.2,452.1h6.8L72.6,457.8z"/>
<path d="M69.9,463.3h6.8L73.3,469.0z"/>
<path d="M71.1,478.9h6.8L74.5,484.6z"/>
<path d="M71.2,480.6h6.8L74.6,486.3z"/>
<path d="M72.5,495.4h6.8L75.9,501.1z"/>
<path d="M73.5,505.8h6.8L76.9,511.5z"/>
<path d="M74.5,515.8h6.8L77.9,521.5z"/>
<path d="M75.7,528.0h6.8L79.1,533.6z"/>
<path d="M77.0,539.6h6.8L80.4,545.2z"/>
<path d="M78.3,547.9h6.8L81.7,553.6z"/>
<path d="M79.2,552.2h6.8L82.6,557.9z"/>
<path d="M80.6,563.0h6.8L84.0,568.7z"/>
<path d="M81.6,563.5h6.8L85.0,569.2z"/>
<path d="M82.9,570.8h6.8L86.3,576.5z"/>
<path d="M83.9,574.4h6.8L87.3,580.1z"/>
<path d="M85.2,577.1h6.8L88.6,582.8z"/>
<path d="M86.2,580.6h6.8L89.6,586.3z"/>
<path d="M87.6,585.2h6.8L91.0,590.9z"/>
<path d="M88.7,589.9h6.8L92.1,595.6z"/>
<path d="M89.9,590.5h6.8L93.3,596.2z"/>
<path d="M91.3,593.1h6.8L94.7,598.7z"/>
<path d="M93.2,598.2h6.8L96.6,603.9z"/>
<path d="M94.5,596.9h6.8L97.9,602.6z"/>
<path d="M96.3,600.1h6.8L99.7,605.7z"/>
<path d="M97.8,605.5h6.8L101.2,611.2z"/>
<path d="M99.1,603.5h6.8L102.5,609.2z"/>
<path d="M101.2,607.5h6.8L104.6,613.2z"/>
<path d="M102.6,604.5h6.8L106.0,610.2z"/>
<path d="M104.5,606.2h6.8L107.9,611.9z"/>
<path d="M106.1,610.2h6.8L109.5,615.9z"/>
<path d="M107.8,610.7h6.8L111.2,616.3z"/>
<path d="M109.7,609.8h6.8L113.1,615.5z"/>
<path d="M111.7,611.1h6.8L115.1,616.8z"/>
<path d="M114.0,608.9h6.8L117.4,614.6z"/>
<path d="M115.8,610.7h6.8L119.2,616.3z"/>
<path d="M117.9,612.8h6.8L121.3,618.5z"/>
<path d="M120.7,612.0h6.8L124.1,617.7z"/>
<path d="M122.4,616.3h6.8L125.8,621.9z"/>
<path d="M125.0,613.2h6.8L128.4,618.9z"/>
<path d="M127.5,612.7h6.8L130.9,618.4z"/>
<path d="M130.1,614.8h6.8L133.5,620.5z"/>
<path d="M132.6,616.0h6.8L136.0,621.6z"/>
<path d="M135.6,614.2h6.8L139.0,619.9z"/>
<path d="M138.2,612.5h6.8L141.6,618.1z"/>
<path d="M140.9,615.4h6.8L144.3,621.0z"/>
<path d="M143.8,617.8h6.8L147.2,623.5z"/>
<path d="M146.7,613.9h6.8L150.1,619.6z"/>
<path d="M150.1,619.5h6.8L153.5,625.2z"/>
<path d="M152.8,615.9h6.8L156.2,621.6z"/>
<path d="M156.4,618.0h6.8L159.8,623.7z"/>
<path d="M159.7,615.8h6.8L163.1,621.4z"/>
<path d="M162.8,618.9h6.8L166.2,624.6z"/>
<path d="M166.5,615.6h6.8L169.9,621.3z"/>
<path d="M170.7,617.5h6.8L174.1,623.2z"/>
<path d="M174.3,621.1h6.8L177.7,626.8z"/>
<path d="M177.7,621.4h6.8L181.1,627.1z"/>
<path d="M181.9,619.2h6.8L185.3,624.9z"/>
<path d="M185.9,616.8h6.8L189.3,622.4z"/>
<path d="M190.7,618.9h6.8L194.1,624.6z"/>
<path d="M194.6,619.2h6.8L198.0,624.9z"/>
<path d="M199.1,619.9h6.8L202.5,625.6z"/>
<path d="M204.4,618.5h6.8L207.8,624.2z"/>
<path d="M208.8,619.3h6.8L212.2,625.0z"/>
<path d="M213.7,619.6h6.8L217.1,625.3z"/>
<path d="M218.6,621.9h6.8L222.0,627.6z"/>
<path d="M224.1,618.5h6.8L227.5,624.2z"/>
<path d="M229.5,618.4h6.8L232.9,624.1z"/>
<path d="M235.2,622.9h6.8L238.6,628.6z"/>
<path d="M240.5,618.0h6.8L243.9,623.6z"/>
<path d="M246.5,619.9h6.8L249.9,625.6z"/>
<path d="M252.7,622.0h6.8L256.1,627.7z"/>
<path d="M259.1,624.3h6.8L262.5,630.0z"/>
<path d="M265.5,620.4h6.8L268.9,626.1z"/>
<path d="M272.3,620.7h6.8L275.7,626.4z"/>
<path d="M278.9,622.7h6.8L282.3,628.4z"/>
<path d="M286.4,624.8h6.8L289.8,630.5z"/>
<path d="M293.7,620.1h6.8L297.1,625.8z"/>
<path d="M300.6,623.0h6.8L304.0,628.7z"/>
<path d="M308.4,622.9h6.8L311.8,628.6z"/>
<path d="M316.6,619.3h6.8L320.0,624.9z"/>
<path d="M324.9,619.3h6.8L328.3,625.0z"/>
<path d="M332.8,620.8h6.8L336.2,626.5z"/>
<path d="M341.6,623.2h6.8L345.0,628.9z"/>
<path d="M350.7,621.4h6.8L354.1,627.1z"/>
<path d="M360.1,625.5h6.8L363.5,631.2z"/>
<path d="M369.7,622.4h6.8L373.1,628.1z"/>
<path d="M379.5,623.9h6.8L382.9,629.6z"/>
<path d="M389.5,624.8h6.8L392.9,630.5z"/>
<path d="M399.3,625.4h6.8L402.7,631.0z"/>
<path d="M410.6,621.9h6.8L414.0,627.6z"/>
<path d="M421.4,622.7h6.8L424.8,628.4z"/>
<path d="M432.3,622.6h6.8L435.7,628.3z"/>
<path d="M444.1,621.5h6.8L447.5,627.2z"/>
<path d="M456.4,624.3h6.8L459.8,630.0z"/>
<path d="M468.6,625.0h6.8L472.0,630.6z"/>
<path d="M481.4,625.9h6.8L484.8,631.6z"/>
</g>
<g stroke="#ff7a00" fill="none" stroke-width="1">
<path d="M39.4,623.0L42.5,624.7L42.5,628.1L39.4,629.8L36.4,628.1L36.4,624.7z"/>
<path d="M41.9,627.1L45.0,628.8L45.0,632.2L41.9,633.9L38.8,632.2L38.8,628.8z"/>
<path d="M44.1,624.0L47.2,625.7L47.2,629.1L44.1,630.8L41.0,629.1L41.0,625.7z"/>
<path d="M46.7,623.7L49.8,625.4L49.8,628.8L46.7,630.5L43.6,628.8L43.6,625.4z"/>
<path d="M48.6,621.5L51.7,623.2L51.7,626.6L48.6,628.3L45.5,626.6L45.5,623.2z"/>
<path d="M51.1,624.1L54.2,625.8L54.2,629.2L51.1,630.9L48.0,629.2L48.0,625.8z"/>
<path d="M53.4,622.9L56.5,624.6L56.5,628.0L53.4,629.7L50.3,628.0L50.3,624.6z"/>
<path d="M55.7,625.8L58.7,627.5L58.7,630.9L55.7,632.6L52.6,630.9L52.6,627.5z"/>
<path d="M58.4,623.6L61.5,625.3L61.5,628.7L58.4,630.4L55.3,628.7L55.3,625.3z"/>
<path d="M58.7,623.7L61.8,625.4L61.8,628.8L58.7,630.5L55.6,628.8L55.6,625.4z"/>
<path d="M59.5,619.3L62.5,621.0L62.5,624.4L59.5,626.1L56.4,624.4L56.4,621.0z"/>
<path d="M60.0,619.4L63.1,621.1L63.1,624.5L60.0,626.2L56.9,624.5L56.9,621.1z"/>
<path d="M61.2,601.7L64.3,603.4L64.3,606.8L61.2,608.5L58.1,606.8L58.1,603.4z"/>
<path d="M61.6,587.7L64.7,589.4L64.7,592.8L61.6,594.5L58.5,592.8L58.5,589.4z"/>
<path d="M62.5,550.0L65.6,551.7L65.6,555.1L62.5,556.8L59.4,555.1L59.4,551.7z"/>
<path d="M62.9,532.8L66.0,534.5L66.0,537.9L62.9,539.6L59.8,537.9L59.8,534.5z"/>
<path d="M63.4,500.7L66.5,502.4L66.5,505.8L63.4,507.5L60.4,505.8L60.4,502.4z"/>
<path d="M64.4,447.0L67.4,448.7L67.4,452.1L64.4,453.8L61.3,452.1L61.3,448.7z"/>
<path d="M65.4,391.8L68.5,393.5L68.5,396.9L65.4,398.6L62.3,396.9L62.3,393.5z"/>
<path d="M66.1,367.2L69.2,368.9L69.2,372.3L66.1,374.0L63.0,372.3L63.0,368.9z"/>
<path d="M66.5,356.9L69.6,358.6L69.6,362.0L66.5,363.7L63.4,362.0L63.4,358.6z"/>
<path d="M67.5,349.2L70.6,350.9L70.6,354.3L67.5,356.0L64.4,354.3L64.4,350.9z"/>
<path d="M67.7,351.5L70.7,353.2L70.7,356.6L67.7,358.3L64.6,356.6L64.6,353.2z"/>
<path d="M68.7,354.3L71.8,356.0L71.8,359.4L68.7,361.1L65.6,359.4L65.6,356.0z"/>
<path d="M69.2,358.9L72.3,360.6L72.3,364.0L69.2,365.7L66.1,364.0L66.1,360.6z"/>
<path d="M70.0,366.5L73.1,368.2L73.1,371.6L70.0,373.3L66.9,371.6L66.9,368.2z"/>
<path d="M70.6,366.6L73.7,368.3L73.7,371.7L70.6,373.4L67.5,371.7L67.5,368.3z"/>
<path d="M71.7,377.8L74.8,379.5L74.8,382.9L71.7,384.6L68.6,382.9L68.6,379.5z"/>
<path d="M72.0,384.2L75.1,385.9L75.1,389.3L72.0,391.0L68.9,389.3L68.9,385.9z"/>
<path d="M73.2,388.0L76.2,389.7L76.2,393.1L73.2,394.8L70.1,393.1L70.1,389.7z"/>
<path d="M73.3,391.9L76.4,393.6L76.4,397.0L73.3,398.7L70.2,397.0L70.2,393.6z"/>
<path d="M74.2,401.5L77.3,403.2L77.3,406.6L74.2,408.3L71.1,406.6L71.1,403.2z"/>
<path d="M74.4,400.8L77.5,402.5L77.5,405.9L74.4,407.6L71.3,405.9L71.3,402.5z"/>
<path d="M75.8,411.7L78.9,413.4L78.9,416.8L75.8,418.5L72.7,416.8L72.7,413.4z"/>
<path d="M76.7,419.5L79.8,421.2L79.8,424.6L76.7,426.3L73.6,424.6L73.6,421.2z"/>
<path d="M78.0,429.9L81.0,431.6L81.0,435.0L78.0,436.7L74.9,435.0L74.9,431.6z"/>
<path d="M78.8,431.9L81.9,433.6L81.9,437.0L78.8,438.7L75.7,437.0L75.7,433.6z"/>
<path d="M80.2,439.5L83.2,441.2L83.2,444.6L80.2,446.3L77.1,444.6L77.1,441.2z"/>
<path d="M81.6,451.8L84.7,453.5L84.7,456.9L81.6,458.6L78.5,456.9L78.5,453.5z"/>
<path d="M82.3,451.2L85.4,452.9L85.4,456.3L82.3,458.0L79.2,456.3L79.2,452.9z"/>
<path d="M83.7,458.4L86.8,460.1L86.8,463.5L83.7,465.2L80.7,463.5L80.7,460.1z"/>
<path d="M84.8,465.4L87.8,467.1L87.8,470.5L84.8,472.2L81.7,470.5L81.7,467.1z"/>
<path d="M85.9,469.5L89.0,471.2L89.0,474.6L85.9,476.3L82.8,474.6L82.8,471.2z"/>
<path d="M87.0,475.3L90.1,477.0L90.1,480.4L87.0,482.1L83.9,480.4L83.9,477.0z"/>
<path d="M88.7,483.4L91.8,485.1L91.8,488.5L88.7,490.2L85.6,488.5L85.6,485.1z"/>
<path d="M89.8,487.0L92.9,488.7L92.9,492.1L89.8,493.8L86.7,492.1L86.7,488.7z"/>
<path d="M90.9,487.6L94.0,489.3L94.0,492.7L90.9,494.4L87.8,492.7L87.8,489.3z"/>
<path d="M92.2,497.7L95.3,499.4L95.3,502.8L92.2,504.5L89.1,502.8L89.1,499.4z"/>
<path d="M93.8,499.8L96.9,501.5L96.9,504.9L93.8,506.6L90.7,504.9L90.7,501.5z"/>
<path d="M95.1,504.0L98.2,505.7L98.2,509.1L95.1,510.8L92.0,509.1L92.0,505.7z"/>
<path d="M96.7,510.7L99.8,512.4L99.8,515.8L96.7,517.5L93.6,515.8L93.6,512.4z"/>
<path d="M98.2,514.3L101.3,516.0L101.3,519.4L98.2,521.1L95.1,519.4L95.1,516.0z"/>
<path d="M99.4,519.3L102.5,521.0L102.5,524.4L99.4,526.1L96.3,524.4L96.3,521.0z"/>
<path d="M101.1,522.5L104.2,524.2L104.2,527.6L101.1,529.3L98.0,527.6L98.0,524.2z"/>
<path d="M102.6,524.5L105.7,526.2L105.7,529.6L102.6,531.3L99.5,529.6L99.5,526.2z"/>
<path d="M104.1,527.2L107.2,528.9L107.2,532.3L104.1,534.0L101.0,532.3L101.0,528.9z"/>
<path d="M105.9,533.3L109.0,535.0L109.0,538.4L105.9,540.1L102.8,538.4L102.8,535.0z"/>
<path d="M107.9,531.9L111.0,533.6L111.0,537.0L107.9,538.7L104.8,537.0L104.8,533.6z"/>
<path d="M109.6,539.6L112.7,541.3L112.7,544.7L109.6,546.4L106.5,544.7L106.5,541.3z"/>
<path d="M111.5,541.6L114.6,543.3L114.6,546.7L111.5,548.4L108.4,546.7L108.4,543.3z"/>
<path d="M113.3,545.2L116.4,546.9L116.4,550.3L113.3,552.0L110.2,550.3L110.2,546.9z"/>
<path d="M115.6,549.0L118.7,550.7L118.7,554.1L115.6,555.8L112.5,554.1L112.5,550.7z"/>
<path d="M117.5,548.4L120.6,550.1L120.6,553.5L117.5,555.2L114.4,553.5L114.4,550.1z"/>
<path d="M119.2,554.0L122.3,555.7L122.3,559.1L119.2,560.8L116.1,559.1L116.1,555.7z"/>
<path d="M121.8,553.8L124.9,555.5L124.9,558.9L121.8,560.6L118.7,558.9L118.7,555.5z"/>
<path d="M124.1,556.9L127.2,558.6L127.2,562.0L124.1,563.7L121.0,562.0L121.0,558.6z"/>
<path d="M126.3,563.5L129.4,565.2L129.4,568.6L126.3,570.3L123.2,568.6L123.2,565.2z"/>
<path d="M128.4,561.6L131.5,563.3L131.5,566.7L128.4,568.4L125.3,566.7L125.3,563.3z"/>
<path d="M130.8,567.2L133.9,568.9L133.9,572.3L130.8,574.0L127.7,572.3L127.7,568.9z"/>
<path d="M133.2,564.7L136.3,566.4L136.3,569.8L133.2,571.5L130.2,569.8L130.2,566.4z"/>
<path d="M135.7,570.9L138.8,572.6L138.8,576.0L135.7,577.7L132.6,576.0L132.6,572.6z"/>
<path d="M138.6,574.4L141.7,576.1L141.7,579.5L138.6,581.2L135.6,579.5L135.6,576.1z"/>
<path d="M141.7,578.3L144.7,580.0L144.7,583.4L141.7,585.1L138.6,583.4L138.6,580.0z"/>
<path d="M144.4,579.2L147.5,580.9L147.5,584.3L144.4,586.0L141.3,584.3L141.3,580.9z"/>
<path d="M147.2,579.7L150.3,581.4L150.3,584.8L147.2,586.5L144.2,584.8L144.2,581.4z"/>
<path d="M150.4,582.4L153.5,584.1L153.5,587.5L150.4,589.2L147.3,587.5L147.3,584.1z"/>
<path d="M153.3,584.6L156.4,586.3L156.4,589.7L153.3,591.4L150.2,589.7L150.2,586.3z"/>
<path d="M156.2,585.2L159.3,586.9L159.3,590.3L156.2,592.0L153.1,590.3L153.1,586.9z"/>
<path d="M159.9,586.1L163.0,587.8L163.0,591.2L159.9,592.9L156.8,591.2L156.8,587.8z"/>
<path d="M162.9,584.5L166.0,586.2L166.0,589.6L162.9,591.3L159.8,589.6L159.8,586.2z"/>
<path d="M166.8,592.3L169.9,594.0L169.9,597.4L166.8,599.1L163.7,597.4L163.7,594.0z"/>
<path d="M170.0,591.5L173.0,593.2L173.0,596.6L170.0,598.3L166.9,596.6L166.9,593.2z"/>
<path d="M173.5,593.7L176.6,595.4L176.6,598.8L173.5,600.5L170.4,598.8L170.4,595.4z"/>
<path d="M177.7,596.5L180.8,598.2L180.8,601.6L177.7,603.3L174.6,601.6L174.6,598.2z"/>
<path d="M181.2,597.3L184.3,599.0L184.3,602.4L181.2,604.1L178.1,602.4L178.1,599.0z"/>
<path d="M185.7,598.2L188.8,599.9L188.8,603.3L185.7,605.0L182.6,603.3L182.6,599.9z"/>
<path d="M189.6,596.3L192.6,598.0L192.6,601.4L189.6,603.1L186.5,601.4L186.5,598.0z"/>
<path d="M194.1,599.5L197.2,601.2L197.2,604.6L194.1,606.3L191.0,604.6L191.0,601.2z"/>
<path d="M198.0,601.3L201.1,603.0L201.1,606.4L198.0,608.1L194.9,606.4L194.9,603.0z"/>
<path d="M202.8,600.4L205.9,602.1L205.9,605.5L202.8,607.2L199.7,605.5L199.7,602.1z"/>
<path d="M207.6,602.3L210.7,604.0L210.7,607.4L207.6,609.1L204.5,607.4L204.5,604.0z"/>
<path d="M212.0,604.4L215.1,606.1L215.1,609.5L212.0,611.2L208.9,609.5L208.9,606.1z"/>
<path d="M217.3,604.4L220.4,606.1L220.4,609.5L217.3,611.2L214.2,609.5L214.2,606.1z"/>
<path d="M222.1,607.8L225.2,609.5L225.2,612.9L222.1,614.6L219.0,612.9L219.0,609.5z"/>
<path d="M227.4,606.1L230.5,607.8L230.5,611.2L227.4,612.9L224.3,611.2L224.3,607.8z"/>
<path d="M232.9,607.4L236.0,609.1L236.0,612.5L232.9,614.2L229.8,612.5L229.8,609.1z"/>
<path d="M238.6,610.1L241.7,611.8L241.7,615.2L238.6,616.9L235.5,615.2L235.5,611.8z"/>
<path d="M244.0,612.6L247.1,614.3L247.1,617.7L244.0,619.4L240.9,617.7L240.9,614.3z"/>
<path d="M250.0,608.3L253.1,610.0L253.1,613.4L250.0,615.1L246.9,613.4L246.9,610.0z"/>
<path d="M256.5,611.9L259.6,613.6L259.6,617.0L256.5,618.7L253.4,617.0L253.4,613.6z"/>
<path d="M262.7,609.5L265.8,611.2L265.8,614.6L262.7,616.3L259.6,614.6L259.6,611.2z"/>
<path d="M269.0,615.0L272.1,616.7L272.1,620.1L269.0,621.8L265.9,620.1L265.9,616.7z"/>
<path d="M275.5,612.9L278.6,614.6L278.6,618.0L275.5,619.7L272.4,618.0L272.4,614.6z"/>
<path d="M282.6,616.1L285.7,617.8L285.7,621.2L282.6,622.9L279.5,621.2L279.5,617.8z"/>
<path d="M289.5,615.4L292.6,617.1L292.6,620.5L289.5,622.2L286.4,620.5L286.4,617.1z"/>
<path d="M296.7,615.0L299.8,616.7L299.8,620.1L296.7,621.8L293.6,620.1L293.6,616.7z"/>
<path d="M304.6,618.7L307.7,620.4L307.7,623.8L304.6,625.5L301.5,623.8L301.5,620.4z"/>
<path d="M311.8,617.9L314.9,619.6L314.9,623.0L311.8,624.7L308.7,623.0L308.7,619.6z"/>
<path d="M320.2,618.0L323.3,619.7L323.3,623.1L320.2,624.8L317.1,623.1L317.1,619.7z"/>
<path d="M328.2,618.6L331.3,620.3L331.3,623.7L328.2,625.4L325.1,623.7L325.1,620.3z"/>
<path d="M336.7,618.2L339.7,619.9L339.7,623.3L336.7,625.0L333.6,623.3L333.6,619.9z"/>
<path d="M345.4,617.8L348.4,619.5L348.4,622.9L345.4,624.6L342.3,622.9L342.3,619.5z"/>
<path d="M354.3,618.6L357.4,620.3L357.4,623.7L354.3,625.4L351.2,623.7L351.2,620.3z"/>
<path d="M363.6,620.0L366.7,621.7L366.7,625.1L363.6,626.8L360.5,625.1L360.5,621.7z"/>
<path d="M373.1,621.6L376.2,623.3L376.2,626.7L373.1,628.4L370.1,626.7L370.1,623.3z"/>
<path d="M382.4,623.4L385.5,625.1L385.5,628.5L382.4,630.2L379.4,628.5L379.4,625.1z"/>
<path d="M392.4,622.9L395.5,624.6L395.5,628.0L392.4,629.7L389.3,628.0L389.3,624.6z"/>
<path d="M403.3,622.8L406.4,624.5L406.4,627.9L403.3,629.6L400.2,627.9L400.2,624.5z"/>
<path d="M413.5,620.7L416.6,622.4L416.6,625.8L413.5,627.5L410.4,625.8L410.4,622.4z"/>
<path d="M424.5,622.9L427.6,624.6L427.6,628.0L424.5,629.7L421.4,628.0L421.4,624.6z"/>
<path d="M436.2,624.8L439.3,626.5L439.3,629.9L436.2,631.6L433.1,629.9L433.1,626.5z"/>
<path d="M448.0,621.4L451.1,623.1L451.1,626.5L448.0,628.2L444.9,626.5L444.9,623.1z"/>
<path d="M459.9,624.3L463.0,626.0L463.0,629.4L459.9,631.1L456.8,629.4L456.8,626.0z"/>
<path d="M472.1,624.4L475.2,626.1L475.2,629.5L472.1,631.2L469.0,629.5L469.0,626.1z"/>
<path d="M484.7,623.5L487.8,625.2L487.8,628.6L484.7,630.3L481.6,628.6L481.6,625.2z"/>
</g>
<g stroke="#007b7b" fill="none" stroke-width="1">
<path d="M39.9,620.7L43.1,624.3L39.9,628.0L36.7,624.3z"/>
<path d="M42.0,623.3L45.2,627.0L42.0,630.6L38.8,627.0z"/>
<path d="M44.0,620.7L47.2,624.3L44.0,628.0L40.7,624.3z"/>
<path d="M46.3,620.7L49.6,624.3L46.3,628.0L43.1,624.3z"/>
<path d="M48.7,623.9L51.9,627.6L48.7,631.2L45.4,627.6z"/>
<path d="M51.2,625.7L54.4,629.3L51.2,633.0L48.0,629.3z"/>
<path d="M53.8,622.2L57.1,625.9L53.8,629.5L50.6,625.9z"/>
<path d="M55.6,623.9L58.8,627.6L55.6,631.3L52.4,627.6z"/>
<path d="M58.0,624.1L61.2,627.7L58.0,631.4L54.7,627.7z"/>
<path d="M58.7,624.3L61.9,628.0L58.7,631.6L55.5,628.0z"/>
<path d="M59.6,616.8L62.9,620.5L59.6,624.1L56.4,620.5z"/>
<path d="M60.2,615.8L63.5,619.4L60.2,623.1L57.0,619.4z"/>
<path d="M60.9,607.6L64.2,611.2L60.9,614.9L57.7,611.2z"/>
<path d="M61.4,594.4L64.7,598.1L61.4,601.8L58.2,598.1z"/>
<path d="M62.6,550.9L65.8,554.5L62.6,558.2L59.4,554.5z"/>
<path d="M63.1,524.7L66.3,528.4L63.1,532.0L59.8,528.4z"/>
<path d="M64.0,468.3L67.3,472.0L64.0,475.6L60.8,472.0z"/>
<path d="M64.1,462.5L67.4,466.1L64.1,469.8L60.9,466.1z"/>
<path d="M65.1,405.3L68.4,408.9L65.1,412.6L61.9,408.9z"/>
<path d="M65.8,381.3L69.0,385.0L65.8,388.7L62.6,385.0z"/>
<path d="M66.8,354.7L70.0,358.4L66.8,362.0L63.6,358.4z"/>
<path d="M67.4,348.4L70.6,352.1L67.4,355.7L64.2,352.1z"/>
<path d="M68.0,350.0L71.2,353.6L68.0,357.3L64.7,353.6z"/>
<path d="M68.4,351.5L71.7,355.2L68.4,358.9L65.2,355.2z"/>
<path d="M69.5,356.2L72.7,359.9L69.5,363.5L66.3,359.9z"/>
<path d="M70.3,361.3L73.6,364.9L70.3,368.6L67.1,364.9z"/>
<path d="M70.9,367.4L74.2,371.1L70.9,374.7L67.7,371.1z"/>
<path d="M71.8,373.4L75.0,377.0L71.8,380.7L68.5,377.0z"/>
<path d="M72.2,376.8L75.4,380.5L72.2,384.2L69.0,380.5z"/>
<path d="M72.7,379.9L75.9,383.6L72.7,387.3L69.5,383.6z"/>
<path d="M73.4,383.9L76.6,387.6L73.4,391.2L70.1,387.6z"/>
<path d="M74.5,393.6L77.7,397.3L74.5,400.9L71.2,397.3z"/>
<path d="M74.7,394.8L77.9,398.5L74.7,402.2L71.5,398.5z"/>
<path d="M75.7,400.7L79.0,404.4L75.7,408.1L72.5,404.4z"/>
<path d="M77.0,409.8L80.2,413.5L77.0,417.1L73.8,413.5z"/>
<path d="M78.0,414.2L81.2,417.9L78.0,421.5L74.7,417.9z"/>
<path d="M79.4,421.6L82.6,425.3L79.4,429.0L76.1,425.3z"/>
<path d="M80.4,428.3L83.7,432.0L80.4,435.6L77.2,432.0z"/>
<path d="M81.3,433.7L84.5,437.4L81.3,441.0L78.0,437.4z"/>
<path d="M82.7,441.1L85.9,444.8L82.7,448.4L79.4,444.8z"/>
<path d="M83.9,442.7L87.1,446.4L83.9,450.1L80.7,446.4z"/>
<path d="M84.7,448.1L88.0,451.8L84.7,455.5L81.5,451.8z"/>
<path d="M86.4,458.8L89.6,462.5L86.4,466.2L83.2,462.5z"/>
<path d="M87.5,462.9L90.7,466.5L87.5,470.2L84.2,466.5z"/>
<path d="M88.2,461.5L91.4,465.2L88.2,468.9L85.0,465.2z"/>
<path d="M89.5,467.1L92.7,470.7L89.5,474.4L86.3,470.7z"/>
<path d="M90.6,473.6L93.8,477.2L90.6,480.9L87.4,477.2z"/>
<path d="M92.6,478.9L95.8,482.6L92.6,486.2L89.3,482.6z"/>
<path d="M93.4,486.0L96.6,489.7L93.4,493.4L90.2,489.7z"/>
<path d="M95.2,489.6L98.5,493.2L95.2,496.9L92.0,493.2z"/>
<path d="M96.4,492.1L99.7,495.7L96.4,499.4L93.2,495.7z"/>
<path d="M97.6,499.7L100.8,503.4L97.6,507.0L94.4,503.4z"/>
<path d="M99.2,502.6L102.5,506.3L99.2,509.9L96.0,506.3z"/>
<path d="M100.8,504.3L104.1,508.0L100.8,511.6L97.6,508.0z"/>
<path d="M102.8,508.7L106.0,512.4L102.8,516.0L99.6,512.4z"/>
<path d="M104.2,514.8L107.4,518.5L104.2,522.2L100.9,518.5z"/>
<path d="M105.7,516.9L108.9,520.6L105.7,524.2L102.5,520.6z"/>
<path d="M108.0,519.7L111.3,523.4L108.0,527.1L104.8,523.4z"/>
<path d="M109.5,526.0L112.8,529.7L109.5,533.4L106.3,529.7z"/>
<path d="M111.1,530.6L114.3,534.3L111.1,537.9L107.9,534.3z"/>
<path d="M113.6,533.1L116.9,536.8L113.6,540.5L110.4,536.8z"/>
<path d="M115.4,536.7L118.7,540.3L115.4,544.0L112.2,540.3z"/>
<path d="M117.3,536.9L120.5,540.6L117.3,544.2L114.1,540.6z"/>
<path d="M119.2,541.6L122.4,545.3L119.2,549.0L116.0,545.3z"/>
<path d="M121.7,546.9L125.0,550.5L121.7,554.2L118.5,550.5z"/>
<path d="M123.5,545.0L126.8,548.7L123.5,552.4L120.3,548.7z"/>
<path d="M126.4,552.4L129.7,556.1L126.4,559.8L123.2,556.1z"/>
<path d="M128.7,553.5L131.9,557.1L128.7,560.8L125.4,557.1z"/>
<path d="M131.1,555.8L134.3,559.5L131.1,563.1L127.8,559.5z"/>
<path d="M133.6,558.3L136.8,561.9L133.6,565.6L130.4,561.9z"/>
<path d="M136.3,561.8L139.5,565.5L136.3,569.2L133.0,565.5z"/>
<path d="M138.6,563.4L141.9,567.0L138.6,570.7L135.4,567.0z"/>
<path d="M141.6,567.0L144.9,570.7L141.6,574.3L138.4,570.7z"/>
<path d="M144.0,571.1L147.2,574.8L144.0,578.5L140.7,574.8z"/>
<path d="M147.3,571.7L150.5,575.3L147.3,579.0L144.0,575.3z"/>
<path d="M150.3,573.8L153.5,577.5L150.3,581.1L147.1,577.5z"/>
<path d="M153.0,575.6L156.2,579.2L153.0,582.9L149.8,579.2z"/>
<path d="M156.1,577.0L159.3,580.7L156.1,584.4L152.9,580.7z"/>
<path d="M159.9,580.5L163.2,584.2L159.9,587.9L156.7,584.2z"/>
<path d="M163.3,579.2L166.5,582.9L163.3,586.5L160.1,582.9z"/>
<path d="M166.2,580.3L169.5,584.0L166.2,587.7L163.0,584.0z"/>
<path d="M170.1,587.8L173.4,591.4L170.1,595.1L166.9,591.4z"/>
<path d="M173.5,586.4L176.8,590.0L173.5,593.7L170.3,590.0z"/>
<path d="M177.3,589.2L180.6,592.9L177.3,596.6L174.1,592.9z"/>
<path d="M181.8,592.8L185.0,596.5L181.8,600.2L178.5,596.5z"/>
<path d="M185.6,590.6L188.8,594.3L185.6,598.0L182.4,594.3z"/>
<path d="M189.8,593.9L193.0,597.5L189.8,601.2L186.6,597.5z"/>
<path d="M193.7,594.8L197.0,598.5L193.7,602.1L190.5,598.5z"/>
<path d="M198.5,596.8L201.7,600.4L198.5,604.1L195.2,600.4z"/>
<path d="M202.9,595.3L206.2,598.9L202.9,602.6L199.7,598.9z"/>
<path d="M207.4,596.3L210.6,599.9L207.4,603.6L204.1,599.9z"/>
<path d="M212.3,599.2L215.5,602.8L212.3,606.5L209.0,602.8z"/>
<path d="M217.1,599.7L220.3,603.3L217.1,607.0L213.8,603.3z"/>
<path d="M222.4,602.3L225.6,605.9L222.4,609.6L219.2,605.9z"/>
<path d="M227.4,602.9L230.6,606.6L227.4,610.3L224.1,606.6z"/>
<path d="M232.9,605.6L236.2,609.2L232.9,612.9L229.7,609.2z"/>
<path d="M238.8,605.4L242.0,609.1L238.8,612.8L235.6,609.1z"/>
<path d="M244.4,607.7L247.6,611.3L244.4,615.0L241.2,611.3z"/>
<path d="M250.3,606.9L253.5,610.6L250.3,614.2L247.0,610.6z"/>
<path d="M256.0,607.0L259.2,610.7L256.0,614.4L252.8,610.7z"/>
<path d="M262.8,608.9L266.0,612.6L262.8,616.2L259.5,612.6z"/>
<path d="M269.1,608.3L272.3,612.0L269.1,615.7L265.9,612.0z"/>
<path d="M276.0,608.2L279.2,611.9L276.0,615.6L272.7,611.9z"/>
<path d="M282.8,614.9L286.0,618.6L282.8,622.3L279.6,618.6z"/>
<path d="M289.9,612.7L293.1,616.4L289.9,620.1L286.6,616.4z"/>
<path d="M296.8,614.4L300.1,618.1L296.8,621.7L293.6,618.1z"/>
<path d="M304.5,614.9L307.7,618.6L304.5,622.3L301.3,618.6z"/>
<path d="M311.7,617.0L315.0,620.7L311.7,624.4L308.5,620.7z"/>
<path d="M319.6,615.4L322.9,619.0L319.6,622.7L316.4,619.0z"/>
<path d="M328.3,616.5L331.6,620.2L328.3,623.8L325.1,620.2z"/>
<path d="M336.7,617.7L339.9,621.3L336.7,625.0L333.4,621.3z"/>
<path d="M345.5,617.6L348.8,621.3L345.5,624.9L342.3,621.3z"/>
<path d="M354.0,618.6L357.3,622.3L354.0,626.0L350.8,622.3z"/>
<path d="M363.4,621.1L366.6,624.7L363.4,628.4L360.1,624.7z"/>
<path d="M373.1,616.8L376.3,620.4L373.1,624.1L369.8,620.4z"/>
<path d="M382.7,619.4L385.9,623.1L382.7,626.8L379.5,623.1z"/>
<path d="M392.9,620.9L396.1,624.5L392.9,628.2L389.7,624.5z"/>
<path d="M403.0,619.1L406.2,622.8L403.0,626.5L399.7,622.8z"/>
<path d="M413.9,621.0L417.2,624.7L413.9,628.4L410.7,624.7z"/>
<path d="M424.9,623.2L428.2,626.9L424.9,630.5L421.7,626.9z"/>
<path d="M436.3,619.0L439.5,622.7L436.3,626.4L433.1,622.7z"/>
<path d="M447.6,623.5L450.8,627.1L447.6,630.8L444.4,627.1z"/>
<path d="M460.0,621.3L463.2,625.0L460.0,628.6L456.7,625.0z"/>
<path d="M471.9,620.9L475.2,624.6L471.9,628.3L468.7,624.6z"/>
<path d="M484.9,619.1L488.1,622.7L484.9,626.4L481.6,622.7z"/>
</g>
<g stroke="#0000ff" fill="none" stroke-width="1">
<path d="M36.0,630.9h6.8L39.4,625.2z"/>
<path d="M38.7,630.7h6.8L42.1,625.0z"/>
<path d="M40.6,629.2h6.8L44.0,623.5z"/>
<path d="M43.5,628.3h6.8L46.9,622.6z"/>
<path d="M45.6,629.9h6.8L49.0,624.3z"/>
<path d="M48.1,631.9h6.8L51.5,626.2z"/>
<path d="M50.2,628.7h6.8L53.6,623.1z"/>
<path d="M52.4,628.9h6.8L55.8,623.2z"/>
<path d="M54.7,625.9h6.8L58.1,620.2z"/>
<path d="M55.8,629.3h6.8L59.2,623.6z"/>
<path d="M56.2,622.6h6.8L59.6,616.9z"/>
<path d="M56.8,618.4h6.8L60.2,612.7z"/>
<path d="M57.4,614.1h6.8L60.8,608.4z"/>
<path d="M58.0,597.2h6.8L61.4,591.6z"/>
<path d="M58.9,568.7h6.8L62.3,563.1z"/>
<path d="M59.6,531.2h6.8L63.0,525.5z"/>
<path d="M60.6,478.2h6.8L64.0,472.5z"/>
<path d="M60.8,463.5h6.8L64.2,457.8z"/>
<path d="M61.7,414.5h6.8L65.1,408.8z"/>
<path d="M62.2,395.1h6.8L65.6,389.4z"/>
<path d="M63.0,369.7h6.8L66.4,364.0z"/>
<path d="M63.9,358.2h6.8L67.3,352.5z"/>
<path d="M64.8,354.3h6.8L68.2,348.6z"/>
<path d="M65.0,353.6h6.8L68.4,347.9z"/>
<path d="M65.7,359.3h6.8L69.1,353.6z"/>
<path d="M66.8,365.8h6.8L70.2,360.1z"/>
<path d="M67.4,369.6h6.8L70.8,363.9z"/>
<path d="M67.8,375.3h6.8L71.2,369.7z"/>
<path d="M68.9,379.7h6.8L72.3,374.0z"/>
<path d="M69.8,386.0h6.8L73.2,380.3z"/>
<path d="M70.3,389.6h6.8L73.7,383.9z"/>
<path d="M71.2,396.8h6.8L74.6,391.1z"/>
<path d="M71.2,398.3h6.8L74.6,392.6z"/>
<path d="M72.1,401.1h6.8L75.5,395.4z"/>
<path d="M73.6,408.8h6.8L77.0,403.2z"/>
<path d="M74.6,412.8h6.8L78.0,407.1z"/>
<path d="M75.4,417.6h6.8L78.8,411.9z"/>
<path d="M76.8,424.1h6.8L80.2,418.5z"/>
<path d="M78.4,433.7h6.8L81.8,428.1z"/>
<path d="M79.3,437.0h6.8L82.7,431.4z"/>
<path d="M80.3,443.7h6.8L83.7,438.1z"/>
<path d="M81.7,448.6h6.8L85.1,442.9z"/>
<path d="M82.8,453.0h6.8L86.2,447.3z"/>
<path d="M83.6,454.8h6.8L87.0,449.1z"/>
<path d="M85.0,463.0h6.8L88.4,457.3z"/>
<path d="M86.5,471.1h6.8L89.9,465.4z"/>
<path d="M87.3,469.6h6.8L90.7,464.0z"/>
<path d="M88.9,478.9h6.8L92.3,473.2z"/>
<path d="M90.0,481.2h6.8L93.4,475.5z"/>
<path d="M91.5,486.5h6.8L94.9,480.8z"/>
<path d="M93.2,492.9h6.8L96.6,487.3z"/>
<path d="M94.4,492.7h6.8L97.8,487.1z"/>
<path d="M96.3,499.1h6.8L99.7,493.4z"/>
<path d="M97.7,505.1h6.8L101.1,499.4z"/>
<path d="M99.3,507.9h6.8L102.7,502.2z"/>
<path d="M100.6,511.9h6.8L104.0,506.3z"/>
<path d="M102.5,514.7h6.8L105.9,509.0z"/>
<path d="M104.6,520.8h6.8L108.0,515.1z"/>
<path d="M106.2,524.8h6.8L109.6,519.2z"/>
<path d="M107.7,527.5h6.8L111.1,521.9z"/>
<path d="M109.9,531.4h6.8L113.3,525.7z"/>
<path d="M111.9,533.6h6.8L115.3,528.0z"/>
<path d="M113.9,539.1h6.8L117.3,533.4z"/>
<path d="M116.0,540.9h6.8L119.4,535.2z"/>
<path d="M118.4,543.7h6.8L121.8,538.0z"/>
<path d="M120.4,544.3h6.8L123.8,538.6z"/>
<path d="M123.0,549.2h6.8L126.4,543.5z"/>
<path d="M125.4,556.5h6.8L128.8,550.9z"/>
<path d="M127.8,557.2h6.8L131.2,551.5z"/>
<path d="M130.2,559.6h6.8L133.6,554.0z"/>
<path d="M132.3,560.6h6.8L135.7,554.9z"/>
<path d="M134.9,561.1h6.8L138.3,555.5z"/>
<path d="M137.8,565.1h6.8L141.2,559.5z"/>
<path d="M140.8,571.9h6.8L144.2,566.3z"/>
<path d="M143.6,570.7h6.8L147.0,565.0z"/>
<path d="M146.5,573.2h6.8L149.9,567.5z"/>
<path d="M150.1,575.3h6.8L153.5,569.6z"/>
<path d="M152.9,575.6h6.8L156.3,569.9z"/>
<path d="M156.0,581.6h6.8L159.4,575.9z"/>
<path d="M159.6,580.1h6.8L163.0,574.4z"/>
<path d="M163.4,586.7h6.8L166.8,581.0z"/>
<path d="M166.8,585.6h6.8L170.2,580.0z"/>
<path d="M170.7,586.9h6.8L174.1,581.3z"/>
<path d="M173.9,586.1h6.8L177.3,580.4z"/>
<path d="M178.2,592.1h6.8L181.6,586.4z"/>
<path d="M182.0,595.2h6.8L185.4,589.5z"/>
<path d="M186.1,592.9h6.8L189.5,587.2z"/>
<path d="M190.5,596.7h6.8L193.9,591.0z"/>
<path d="M194.9,594.5h6.8L198.3,588.8z"/>
<path d="M199.6,599.7h6.8L203.0,594.0z"/>
<path d="M203.9,601.3h6.8L207.3,595.6z"/>
<path d="M208.9,599.2h6.8L212.3,593.5z"/>
<path d="M213.8,602.4h6.8L217.2,596.8z"/>
<path d="M219.0,602.2h6.8L222.4,596.6z"/>
<path d="M224.2,607.5h6.8L227.6,601.8z"/>
<path d="M229.3,603.5h6.8L232.7,597.9z"/>
<path d="M235.4,608.5h6.8L238.8,602.8z"/>
<path d="M241.0,607.3h6.8L244.4,601.6z"/>
<path d="M246.5,611.4h6.8L249.9,605.7z"/>
<path d="M252.9,613.4h6.8L256.3,607.7z"/>
<path d="M259.4,612.3h6.8L262.8,606.6z"/>
<path d="M265.9,612.6h6.8L269.3,606.9z"/>
<path d="M272.2,611.2h6.8L275.6,605.6z"/>
<path d="M278.9,614.2h6.8L282.3,608.5z"/>
<path d="M286.5,614.5h6.8L289.9,608.9z"/>
<path d="M293.6,615.5h6.8L297.0,609.8z"/>
<path d="M301.0,614.4h6.8L304.4,608.8z"/>
<path d="M308.5,619.5h6.8L311.9,613.9z"/>
<path d="M316.8,616.9h6.8L320.2,611.2z"/>
<path d="M324.5,619.9h6.8L327.9,614.2z"/>
<path d="M333.4,620.0h6.8L336.8,614.3z"/>
<path d="M342.0,622.0h6.8L345.4,616.3z"/>
<path d="M350.8,619.8h6.8L354.2,614.1z"/>
<path d="M359.9,624.4h6.8L363.3,618.7z"/>
<path d="M369.6,625.1h6.8L373.0,619.4z"/>
<path d="M379.1,623.8h6.8L382.5,618.1z"/>
<path d="M389.2,625.8h6.8L392.6,620.1z"/>
<path d="M399.5,623.2h6.8L402.9,617.6z"/>
<path d="M410.5,623.3h6.8L413.9,617.7z"/>
<path d="M421.1,626.5h6.8L424.5,620.8z"/>
<path d="M432.6,624.4h6.8L436.0,618.7z"/>
<path d="M444.2,627.1h6.8L447.6,621.4z"/>
<path d="M456.6,626.4h6.8L460.0,620.7z"/>
<path d="M468.4,626.6h6.8L471.8,620.9z"/>
<path d="M481.4,624.0h6.8L484.8,618.3z"/>
</g>
<g stroke="#ff0000" fill="none" stroke-width="1">
<circle cx="39.9" cy="625.9" r="3.4"/>
<circle cx="42.1" cy="629.5" r="3.4"/>
<circle cx="44.3" cy="626.9" r="3.4"/>
<circle cx="46.7" cy="625.8" r="3.4"/>
<circle cx="49.1" cy="630.8" r="3.4"/>
<circle cx="50.9" cy="627.8" r="3.4"/>
<circle cx="53.8" cy="626.9" r="3.4"/>
<circle cx="55.6" cy="627.4" r="3.4"/>
<circle cx="58.2" cy="629.9" r="3.4"/>
<circle cx="58.9" cy="625.5" r="3.4"/>
<circle cx="59.8" cy="623.9" r="3.4"/>
<circle cx="60.1" cy="619.0" r="3.4"/>
<circle cx="61.1" cy="605.0" r="3.4"/>
<circle cx="61.9" cy="585.4" r="3.4"/>
<circle cx="62.3" cy="569.0" r="3.4"/>
<circle cx="63.1" cy="527.4" r="3.4"/>
<circle cx="63.7" cy="493.1" r="3.4"/>
<circle cx="64.7" cy="439.3" r="3.4"/>
<circle cx="65.4" cy="398.2" r="3.4"/>
<circle cx="65.9" cy="379.9" r="3.4"/>
<circle cx="66.2" cy="371.2" r="3.4"/>
<circle cx="67.6" cy="353.8" r="3.4"/>
<circle cx="68.0" cy="354.4" r="3.4"/>
<circle cx="68.4" cy="355.1" r="3.4"/>
<circle cx="69.5" cy="358.2" r="3.4"/>
<circle cx="70.0" cy="365.8" r="3.4"/>
<circle cx="70.5" cy="362.8" r="3.4"/>
<circle cx="71.3" cy="372.2" r="3.4"/>
<circle cx="72.2" cy="374.4" r="3.4"/>
<circle cx="72.7" cy="379.2" r="3.4"/>
<circle cx="73.3" cy="385.9" r="3.4"/>
<circle cx="73.9" cy="387.8" r="3.4"/>
<circle cx="74.4" cy="391.6" r="3.4"/>
<circle cx="75.8" cy="399.7" r="3.4"/>
<circle cx="76.7" cy="404.3" r="3.4"/>
<circle cx="77.9" cy="413.7" r="3.4"/>
<circle cx="79.3" cy="421.6" r="3.4"/>
<circle cx="80.4" cy="426.6" r="3.4"/>
<circle cx="81.8" cy="435.4" r="3.4"/>
<circle cx="82.8" cy="438.3" r="3.4"/>
<circle cx="84.1" cy="443.1" r="3.4"/>
<circle cx="84.9" cy="446.8" r="3.4"/>
<circle cx="86.3" cy="452.7" r="3.4"/>
<circle cx="87.6" cy="459.2" r="3.4"/>
<circle cx="88.1" cy="459.0" r="3.4"/>
<circle cx="89.7" cy="469.7" r="3.4"/>
<circle cx="91.1" cy="472.6" r="3.4"/>
<circle cx="92.1" cy="475.8" r="3.4"/>
<circle cx="93.3" cy="477.6" r="3.4"/>
<circle cx="95.0" cy="483.5" r="3.4"/>
<circle cx="96.1" cy="486.8" r="3.4"/>
<circle cx="97.7" cy="492.8" r="3.4"/>
<circle cx="99.1" cy="495.1" r="3.4"/>
<circle cx="101.2" cy="504.4" r="3.4"/>
<circle cx="102.3" cy="505.2" r="3.4"/>
<circle cx="104.5" cy="514.1" r="3.4"/>
<circle cx="106.0" cy="510.9" r="3.4"/>
<circle cx="107.7" cy="514.8" r="3.4"/>
<circle cx="109.3" cy="522.4" r="3.4"/>
<circle cx="111.3" cy="526.9" r="3.4"/>
<circle cx="113.1" cy="531.9" r="3.4"/>
<circle cx="115.6" cy="535.9" r="3.4"/>
<circle cx="117.3" cy="535.7" r="3.4"/>
<circle cx="119.1" cy="539.0" r="3.4"/>
<circle cx="121.9" cy="545.7" r="3.4"/>
<circle cx="124.2" cy="547.0" r="3.4"/>
<circle cx="126.5" cy="550.3" r="3.4"/>
<circle cx="128.3" cy="550.5" r="3.4"/>
<circle cx="130.9" cy="553.1" r="3.4"/>
<circle cx="133.6" cy="557.8" r="3.4"/>
<circle cx="135.7" cy="559.4" r="3.4"/>
<circle cx="138.6" cy="562.4" r="3.4"/>
<circle cx="141.3" cy="568.0" r="3.4"/>
<circle cx="144.5" cy="567.2" r="3.4"/>
<circle cx="146.8" cy="569.6" r="3.4"/>
<circle cx="150.4" cy="570.7" r="3.4"/>
<circle cx="152.9" cy="577.1" r="3.4"/>
<circle cx="156.7" cy="575.0" r="3.4"/>
<circle cx="159.6" cy="579.5" r="3.4"/>
<circle cx="162.8" cy="579.6" r="3.4"/>
<circle cx="166.4" cy="579.8" r="3.4"/>
<circle cx="170.4" cy="587.0" r="3.4"/>
<circle cx="173.5" cy="588.2" r="3.4"/>
<circle cx="177.8" cy="585.7" r="3.4"/>
<circle cx="181.7" cy="591.5" r="3.4"/>
<circle cx="185.3" cy="592.6" r="3.4"/>
<circle cx="189.7" cy="591.3" r="3.4"/>
<circle cx="193.9" cy="594.3" r="3.4"/>
<circle cx="198.6" cy="594.0" r="3.4"/>
<circle cx="202.6" cy="596.2" r="3.4"/>
<circle cx="207.4" cy="598.3" r="3.4"/>
<circle cx="212.4" cy="597.8" r="3.4"/>
<circle cx="217.0" cy="597.2" r="3.4"/>
<circle cx="222.2" cy="602.4" r="3.4"/>
<circle cx="227.8" cy="600.7" r="3.4"/>
<circle cx="233.1" cy="602.5" r="3.4"/>
<circle cx="238.6" cy="605.7" r="3.4"/>
<circle cx="244.5" cy="606.2" r="3.4"/>
<circle cx="250.0" cy="609.9" r="3.4"/>
<circle cx="256.6" cy="610.4" r="3.4"/>
<circle cx="262.4" cy="609.7" r="3.4"/>
<circle cx="269.3" cy="611.4" r="3.4"/>
<circle cx="275.8" cy="609.7" r="3.4"/>
<circle cx="282.7" cy="615.6" r="3.4"/>
<circle cx="289.6" cy="614.6" r="3.4"/>
<circle cx="297.0" cy="616.2" r="3.4"/>
<circle cx="304.2" cy="616.0" r="3.4"/>
<circle cx="312.2" cy="614.3" r="3.4"/>
<circle cx="319.7" cy="619.6" r="3.4"/>
<circle cx="328.2" cy="616.4" r="3.4"/>
<circle cx="336.9" cy="619.9" r="3.4"/>
<circle cx="345.6" cy="620.1" r="3.4"/>
<circle cx="354.0" cy="618.1" r="3.4"/>
<circle cx="363.6" cy="621.2" r="3.4"/>
<circle cx="372.9" cy="619.9" r="3.4"/>
<circle cx="382.6" cy="621.5" r="3.4"/>
<circle cx="392.6" cy="622.6" r="3.4"/>
<circle cx="403.0" cy="623.4" r="3.4"/>
<circle cx="413.7" cy="626.4" r="3.4"/>
<circle cx="425.0" cy="625.0" r="3.4"/>
<circle cx="436.2" cy="623.7" r="3.4"/>
<circle cx="447.4" cy="623.9" r="3.4"/>
<circle cx="459.9" cy="627.5" r="3.4"/>
<circle cx="472.1" cy="623.1" r="3.4"/>
<circle cx="485.1" cy="624.2" r="3.4"/>
</g>
<path d="M35.1,627.3 35.5,627.3 36.0,627.3 36.5,627.3 36.9,627.3 37.4,627.3 37.9,627.3 38.3,627.3 38.8,627.3 39.3,627.3 39.7,627.3 40.2,627.3 40.6,627.3 41.1,627.3 41.6,627.3 42.0,627.3 42.5,627.3 43.0,627.3 43.4,627.3 43.9,627.3 44.4,627.3 44.8,627.3 45.3,627.3 45.8,627.3 46.2,627.3 46.7,627.3 47.2,627.3 47.6,627.3 48.1,627.3 48.6,627.3 49.0,627.3 49.5,627.3 49.9,627.3 50.4,627.3 50.9,627.3 51.3,627.3 51.8,627.3 52.3,627.3 52.7,627.3 53.2,627.3 53.7,627.3 54.1,627.3 54.6,627.3 55.1,627.3 55.5,627.3 56.0,627.3 56.5,627.3 56.9,627.3 57.4,627.2 57.9,627.1 58.3,626.9 58.8,626.3 59.2,625.2 59.7,623.2 60.2,619.6 60.6,613.7 61.1,604.6 61.6,591.4 62.0,573.5 62.5,550.7 63.0,523.5 63.4,493.1 63.9,461.6 64.4,431.1 64.8,404.0 65.3,382.0 65.8,366.2 66.2,356.7 66.7,353.1 67.2,354.3 67.6,359.2 68.1,366.6 68.5,375.4 69.0,384.9 69.5,394.7 69.9,404.3 70.4,413.7 70.9,422.7 71.3,431.4 71.8,439.7 72.3,447.5 72.7,455.1 73.2,462.3 73.7,469.1 74.1,475.7 74.6,481.9 75.1,487.9 75.5,493.5 76.0,499.0 76.5,504.1 76.9,509.1 77.4,513.8 77.8,518.3 78.3,522.6 78.8,526.7 79.2,530.6 79.7,534.3 80.2,537.9 80.6,541.3 81.1,544.5 81.6,547.6 82.0,550.6 82.5,553.4 83.0,556.1 83.4,558.7 83.9,561.1 84.4,563.5 84.8,565.7 85.3,567.9 85.8,569.9 86.2,571.9 86.7,573.7 87.1,575.5 87.6,577.2 88.1,578.8 88.5,580.4 89.0,581.9 89.5,583.3 89.9,584.7 90.4,585.9 90.9,587.2 91.3,588.4 91.8,589.5 92.3,590.6 92.7,591.6 93.2,592.6 93.7,593.6 94.1,594.5 94.6,595.4 95.1,596.2 95.5,597.0 96.0,597.7 96.4,598.5 96.9,599.2 97.4,599.8 97.8,600.5 98.3,601.1 98.8,601.7 99.2,602.3 99.7,602.8 100.2,603.3 100.6,603.8 101.1,604.3 101.6,604.7 102.0,605.2 102.5,605.6 103.0,606.0 103.4,606.4 103.9,606.8 104.4,607.1 104.8,607.5 105.3,607.8 105.7,608.1 106.2,608.4 106.7,608.7 107.1,609.0 107.6,609.3 108.1,609.6 108.5,609.8 109.0,610.1 109.5,610.3 113.0,611.8 116.4,613.0 119.9,614.0 123.4,614.7 126.9,615.4 130.4,615.9 133.9,616.4 137.4,616.9 140.9,617.3 144.3,617.6 147.8,618.0 151.3,618.3 154.8,618.6 158.3,618.8 161.8,619.1 165.3,619.3 168.8,619.6 172.2,619.8 175.7,620.0 179.2,620.2 182.7,620.4 186.2,620.6 189.7,620.8 193.2,621.0 196.7,621.2 200.1,621.3 203.6,621.5 207.1,621.6 210.6,621.8 214.1,621.9 217.6,622.0 221.1,622.1 224.6,622.3 228.0,622.4 231.5,622.5 235.0,622.6 238.5,622.7 242.0,622.8 245.5,622.9 249.0,623.0 252.5,623.0 255.9,623.1 259.4,623.2 262.9,623.3 266.4,623.3 269.9,623.4 273.4,623.5 276.9,623.5 280.4,623.6 283.8,623.7 287.3,623.7 290.8,623.8 294.3,623.8 297.8,623.9 301.3,623.9 304.8,624.0 308.3,624.0 311.7,624.0 315.2,624.1 318.7,624.1 322.2,624.1 325.7,624.2 329.2,624.2 332.7,624.2 336.2,624.3 339.6,624.3 343.1,624.3 346.6,624.4 350.1,624.4 353.6,624.4 357.1,624.4 360.6,624.5 364.1,624.5 367.5,624.5 371.0,624.5 374.5,624.5 378.0,624.6 381.5,624.6 385.0,624.6 388.5,624.6 392.0,624.6 395.4,624.6 398.9,624.6 402.4,624.7 405.9,624.7 409.4,624.7 412.9,624.7 416.4,624.7 419.9,624.7 423.3,624.7 426.8,624.7 430.3,624.7 433.8,624.8 437.3,624.8 440.8,624.8 444.3,624.8 447.8,624.8 451.2,624.8 454.7,624.8 458.2,624.8 461.7,624.8 465.2,624.8 468.7,624.8 472.2,624.8 475.7,624.8 479.1,624.8 482.6,624.9" stroke="#007a00" stroke-width="3" fill="none" stroke-linejoin="round"/>
<path d="M35.1,627.3 35.5,627.3 36.0,627.3 36.5,627.3 36.9,627.3 37.4,627.3 37.9,627.3 38.3,627.3 38.8,627.3 39.3,627.3 39.7,627.3 40.2,627.3 40.6,627.3 41.1,627.3 41.6,627.3 42.0,627.3 42.5,627.3 43.0,627.3 43.4,627.3 43.9,627.3 44.4,627.3 44.8,627.3 45.3,627.3 45.8,627.3 46.2,627.3 46.7,627.3 47.2,627.3 47.6,627.3 48.1,627.3 48.6,627.3 49.0,627.3 49.5,627.3 49.9,627.3 50.4,627.3 50.9,627.3 51.3,627.3 51.8,627.3 52.3,627.3 52.7,627.3 53.2,627.3 53.7,627.3 54.1,627.3 54.6,627.3 55.1,627.3 55.5,627.3 56.0,627.3 56.5,627.3 56.9,627.3 57.4,627.2 57.9,627.0 58.3,626.7 58.8,626.1 59.2,624.9 59.7,622.8 60.2,619.2 60.6,613.5 61.1,604.9 61.6,592.9 62.0,576.8 62.5,556.5 63.0,532.5 63.4,505.6 63.9,477.3 64.4,449.3 64.8,423.2 65.3,400.6 65.8,382.4 66.2,368.8 66.7,359.8 67.2,354.8 67.6,353.0 68.1,353.6 68.5,355.8 69.0,359.0 69.5,362.8 69.9,366.9 70.4,371.0 70.9,375.2 71.3,379.4 71.8,383.4 72.3,387.4 72.7,391.3 73.2,395.2 73.7,398.9 74.1,402.6 74.6,406.1 75.1,409.6 75.5,413.1 76.0,416.4 76.5,419.7 76.9,422.9 77.4,426.1 77.8,429.1 78.3,432.1 78.8,435.1 79.2,438.0 79.7,440.8 80.2,443.6 80.6,446.3 81.1,448.9 81.6,451.5 82.0,454.1 82.5,456.5 83.0,459.0 83.4,461.4 83.9,463.7 84.4,466.0 84.8,468.2 85.3,470.4 85.8,472.6 86.2,474.7 86.7,476.8 87.1,478.8 87.6,480.8 88.1,482.7 88.5,484.6 89.0,486.5 89.5,488.3 89.9,490.1 90.4,491.9 90.9,493.6 91.3,495.3 91.8,496.9 92.3,498.6 92.7,500.2 93.2,501.7 93.7,503.3 94.1,504.8 94.6,506.2 95.1,507.7 95.5,509.1 96.0,510.5 96.4,511.9 96.9,513.2 97.4,514.5 97.8,515.8 98.3,517.1 98.8,518.4 99.2,519.6 99.7,520.8 100.2,522.0 100.6,523.1 101.1,524.3 101.6,525.4 102.0,526.5 102.5,527.6 103.0,528.6 103.4,529.7 103.9,530.7 104.4,531.7 104.8,532.7 105.3,533.7 105.7,534.6 106.2,535.6 106.7,536.5 107.1,537.4 107.6,538.3 108.1,539.2 108.5,540.0 109.0,540.9 109.5,541.7 113.0,547.6 116.4,552.8 119.9,557.5 123.4,561.7 126.9,565.5 130.4,568.9 133.9,572.1 137.4,575.0 140.9,577.6 144.3,580.1 147.8,582.4 151.3,584.5 154.8,586.5 158.3,588.3 161.8,590.1 165.3,591.7 168.8,593.3 172.2,594.8 175.7,596.2 179.2,597.5 182.7,598.8 186.2,600.0 189.7,601.1 193.2,602.2 196.7,603.3 200.1,604.3 203.6,605.2 207.1,606.1 210.6,607.0 214.1,607.8 217.6,608.6 221.1,609.4 224.6,610.1 228.0,610.8 231.5,611.5 235.0,612.1 238.5,612.7 242.0,613.3 245.5,613.9 249.0,614.4 252.5,614.9 255.9,615.4 259.4,615.9 262.9,616.4 266.4,616.8 269.9,617.2 273.4,617.7 276.9,618.0 280.4,618.4 283.8,618.8 287.3,619.1 290.8,619.4 294.3,619.8 297.8,620.1 301.3,620.3 304.8,620.6 308.3,620.9 311.7,621.1 315.2,621.4 318.7,621.6 322.2,621.9 325.7,622.1 329.2,622.3 332.7,622.5 336.2,622.7 339.6,622.9 343.1,623.0 346.6,623.2 350.1,623.4 353.6,623.5 357.1,623.7 360.6,623.8 364.1,624.0 367.5,624.1 371.0,624.2 374.5,624.3 378.0,624.4 381.5,624.6 385.0,624.7 388.5,624.8 392.0,624.9 395.4,625.0 398.9,625.1 402.4,625.1 405.9,625.2 409.4,625.3 412.9,625.4 416.4,625.5 419.9,625.5 423.3,625.6 426.8,625.7 430.3,625.7 433.8,625.8 437.3,625.8 440.8,625.9 444.3,625.9 447.8,626.0 451.2,626.0 454.7,626.1 458.2,626.1 461.7,626.2 465.2,626.2 468.7,626.3 472.2,626.3 475.7,626.3 479.1,626.4 482.6,626.4" stroke="#ff7a00" stroke-width="3" fill="none" stroke-linejoin="round"/>
<path d="M35.1,627.3 35.5,627.3 36.0,627.3 36.5,627.3 36.9,627.3 37.4,627.3 37.9,627.3 38.3,627.3 38.8,627.3 39.3,627.3 39.7,627.3 40.2,627.3 40.6,627.3 41.1,627.3 41.6,627.3 42.0,627.3 42.5,627.3 43.0,627.3 43.4,627.3 43.9,627.3 44.4,627.3 44.8,627.3 45.3,627.3 45.8,627.3 46.2,627.3 46.7,627.3 47.2,627.3 47.6,627.3 48.1,627.3 48.6,627.3 49.0,627.3 49.5,627.3 49.9,627.3 50.4,627.3 50.9,627.3 51.3,627.3 51.8,627.3 52.3,627.3 52.7,627.3 53.2,627.3 53.7,627.3 54.1,627.3 54.6,627.3 55.1,627.3 55.5,627.3 56.0,627.3 56.5,627.3 56.9,627.3 57.4,627.2 57.9,627.1 58.3,626.7 58.8,626.1 59.2,625.0 59.7,622.9 60.2,619.4 60.6,613.8 61.1,605.5 61.6,593.6 62.0,577.8 62.5,557.9 63.0,534.2 63.4,507.7 63.9,479.7 64.4,451.9 64.8,425.9 65.3,403.2 65.8,384.7 66.2,370.8 66.7,361.4 67.2,355.8 67.6,353.3 68.1,353.2 68.5,354.6 69.0,357.1 69.5,360.1 69.9,363.5 70.4,367.0 70.9,370.5 71.3,374.0 71.8,377.4 72.3,380.9 72.7,384.2 73.2,387.5 73.7,390.7 74.1,393.9 74.6,397.0 75.1,400.1 75.5,403.1 76.0,406.1 76.5,409.0 76.9,411.9 77.4,414.7 77.8,417.4 78.3,420.2 78.8,422.8 79.2,425.5 79.7,428.0 80.2,430.6 80.6,433.1 81.1,435.5 81.6,437.9 82.0,440.3 82.5,442.6 83.0,444.9 83.4,447.1 83.9,449.3 84.4,451.5 84.8,453.6 85.3,455.7 85.8,457.8 86.2,459.8 86.7,461.8 87.1,463.8 87.6,465.7 88.1,467.6 88.5,469.5 89.0,471.3 89.5,473.1 89.9,474.9 90.4,476.7 90.9,478.4 91.3,480.1 91.8,481.7 92.3,483.4 92.7,485.0 93.2,486.6 93.7,488.1 94.1,489.7 94.6,491.2 95.1,492.7 95.5,494.1 96.0,495.6 96.4,497.0 96.9,498.4 97.4,499.7 97.8,501.1 98.3,502.4 98.8,503.7 99.2,505.0 99.7,506.3 100.2,507.5 100.6,508.8 101.1,510.0 101.6,511.2 102.0,512.3 102.5,513.5 103.0,514.6 103.4,515.8 103.9,516.9 104.4,518.0 104.8,519.0 105.3,520.1 105.7,521.1 106.2,522.2 106.7,523.2 107.1,524.2 107.6,525.1 108.1,526.1 108.5,527.1 109.0,528.0 109.5,528.9 113.0,535.5 116.4,541.4 119.9,546.7 123.4,551.5 126.9,555.9 130.4,559.8 133.9,563.5 137.4,566.8 140.9,569.9 144.3,572.8 147.8,575.4 151.3,577.8 154.8,580.1 158.3,582.2 161.8,584.2 165.3,586.1 168.8,587.8 172.2,589.5 175.7,591.0 179.2,592.5 182.7,593.9 186.2,595.2 189.7,596.5 193.2,597.7 196.7,598.8 200.1,599.9 203.6,600.9 207.1,601.9 210.6,602.8 214.1,603.7 217.6,604.6 221.1,605.4 224.6,606.2 228.0,607.0 231.5,607.7 235.0,608.4 238.5,609.1 242.0,609.7 245.5,610.4 249.0,611.0 252.5,611.5 255.9,612.1 259.4,612.6 262.9,613.1 266.4,613.6 269.9,614.1 273.4,614.5 276.9,615.0 280.4,615.4 283.8,615.8 287.3,616.2 290.8,616.5 294.3,616.9 297.8,617.2 301.3,617.6 304.8,617.9 308.3,618.2 311.7,618.5 315.2,618.8 318.7,619.0 322.2,619.3 325.7,619.6 329.2,619.8 332.7,620.0 336.2,620.3 339.6,620.5 343.1,620.7 346.6,620.9 350.1,621.1 353.6,621.3 357.1,621.5 360.6,621.6 364.1,621.8 367.5,622.0 371.0,622.1 374.5,622.3 378.0,622.4 381.5,622.5 385.0,622.7 388.5,622.8 392.0,622.9 395.4,623.1 398.9,623.2 402.4,623.3 405.9,623.4 409.4,623.5 412.9,623.6 416.4,623.7 419.9,623.8 423.3,623.9 426.8,623.9 430.3,624.0 433.8,624.1 437.3,624.2 440.8,624.2 444.3,624.3 447.8,624.4 451.2,624.5 454.7,624.5 458.2,624.6 461.7,624.6 465.2,624.7 468.7,624.7 472.2,624.8 475.7,624.8 479.1,624.9 482.6,624.9" stroke="#007b7b" stroke-width="3" fill="none" stroke-linejoin="round"/>
<path d="M35.1,627.3 35.5,627.3 36.0,627.3 36.5,627.3 36.9,627.3 37.4,627.3 37.9,627.3 38.3,627.3 38.8,627.3 39.3,627.3 39.7,627.3 40.2,627.3 40.6,627.3 41.1,627.3 41.6,627.3 42.0,627.3 42.5,627.3 43.0,627.3 43.4,627.3 43.9,627.3 44.4,627.3 44.8,627.3 45.3,627.3 45.8,627.3 46.2,627.3 46.7,627.3 47.2,627.3 47.6,627.3 48.1,627.3 48.6,627.3 49.0,627.3 49.5,627.3 49.9,627.3 50.4,627.3 50.9,627.3 51.3,627.3 51.8,627.3 52.3,627.3 52.7,627.3 53.2,627.3 53.7,627.3 54.1,627.3 54.6,627.3 55.1,627.3 55.5,627.3 56.0,627.3 56.5,627.3 56.9,627.3 57.4,627.2 57.9,627.1 58.3,626.8 58.8,626.2 59.2,625.1 59.7,623.1 60.2,619.8 60.6,614.3 61.1,606.2 61.6,594.5 62.0,578.9 62.5,559.1 63.0,535.5 63.4,508.9 63.9,480.9 64.4,452.9 64.8,426.9 65.3,404.1 65.8,385.5 66.2,371.4 66.7,361.8 67.2,356.1 67.6,353.4 68.1,353.1 68.5,354.3 69.0,356.4 69.5,359.2 69.9,362.2 70.4,365.4 70.9,368.6 71.3,371.8 71.8,375.0 72.3,378.2 72.7,381.2 73.2,384.3 73.7,387.3 74.1,390.2 74.6,393.1 75.1,396.0 75.5,398.8 76.0,401.5 76.5,404.3 76.9,406.9 77.4,409.6 77.8,412.2 78.3,414.7 78.8,417.2 79.2,419.7 79.7,422.1 80.2,424.5 80.6,426.9 81.1,429.2 81.6,431.5 82.0,433.8 82.5,436.0 83.0,438.2 83.4,440.3 83.9,442.4 84.4,444.5 84.8,446.6 85.3,448.6 85.8,450.6 86.2,452.5 86.7,454.5 87.1,456.4 87.6,458.3 88.1,460.1 88.5,461.9 89.0,463.7 89.5,465.5 89.9,467.2 90.4,468.9 90.9,470.6 91.3,472.3 91.8,473.9 92.3,475.5 92.7,477.1 93.2,478.7 93.7,480.2 94.1,481.7 94.6,483.2 95.1,484.7 95.5,486.2 96.0,487.6 96.4,489.0 96.9,490.4 97.4,491.8 97.8,493.1 98.3,494.4 98.8,495.8 99.2,497.1 99.7,498.3 100.2,499.6 100.6,500.8 101.1,502.0 101.6,503.3 102.0,504.4 102.5,505.6 103.0,506.8 103.4,507.9 103.9,509.0 104.4,510.1 104.8,511.2 105.3,512.3 105.7,513.4 106.2,514.4 106.7,515.4 107.1,516.5 107.6,517.5 108.1,518.5 108.5,519.4 109.0,520.4 109.5,521.3 113.0,528.1 116.4,534.2 119.9,539.7 123.4,544.7 126.9,549.3 130.4,553.5 133.9,557.4 137.4,560.9 140.9,564.2 144.3,567.2 147.8,569.9 151.3,572.5 154.8,574.9 158.3,577.2 161.8,579.3 165.3,581.2 168.8,583.1 172.2,584.8 175.7,586.4 179.2,588.0 182.7,589.5 186.2,590.8 189.7,592.2 193.2,593.4 196.7,594.6 200.1,595.8 203.6,596.8 207.1,597.9 210.6,598.9 214.1,599.8 217.6,600.8 221.1,601.7 224.6,602.5 228.0,603.3 231.5,604.1 235.0,604.9 238.5,605.6 242.0,606.3 245.5,607.0 249.0,607.6 252.5,608.2 255.9,608.9 259.4,609.4 262.9,610.0 266.4,610.6 269.9,611.1 273.4,611.6 276.9,612.1 280.4,612.6 283.8,613.0 287.3,613.5 290.8,613.9 294.3,614.4 297.8,614.8 301.3,615.2 304.8,615.5 308.3,615.9 311.7,616.3 315.2,616.6 318.7,616.9 322.2,617.3 325.7,617.6 329.2,617.9 332.7,618.2 336.2,618.5 339.6,618.7 343.1,619.0 346.6,619.3 350.1,619.5 353.6,619.8 357.1,620.0 360.6,620.2 364.1,620.4 367.5,620.7 371.0,620.9 374.5,621.1 378.0,621.3 381.5,621.5 385.0,621.6 388.5,621.8 392.0,622.0 395.4,622.1 398.9,622.3 402.4,622.5 405.9,622.6 409.4,622.8 412.9,622.9 416.4,623.0 419.9,623.2 423.3,623.3 426.8,623.4 430.3,623.5 433.8,623.7 437.3,623.8 440.8,623.9 444.3,624.0 447.8,624.1 451.2,624.2 454.7,624.3 458.2,624.4 461.7,624.5 465.2,624.6 468.7,624.7 472.2,624.7 475.7,624.8 479.1,624.9 482.6,625.0" stroke="#0000ff" stroke-width="3" fill="none" stroke-linejoin="round"/>
<path d="M35.1,627.3 35.5,627.3 36.0,627.3 36.5,627.3 36.9,627.3 37.4,627.3 37.9,627.3 38.3,627.3 38.8,627.3 39.3,627.3 39.7,627.3 40.2,627.3 40.6,627.3 41.1,627.3 41.6,627.3 42.0,627.3 42.5,627.3 43.0,627.3 43.4,627.3 43.9,627.3 44.4,627.3 44.8,627.3 45.3,627.3 45.8,627.3 46.2,627.3 46.7,627.3 47.2,627.3 47.6,627.3 48.1,627.3 48.6,627.3 49.0,627.3 49.5,627.3 49.9,627.3 50.4,627.3 50.9,627.3 51.3,627.3 51.8,627.3 52.3,627.3 52.7,627.3 53.2,627.3 53.7,627.3 54.1,627.3 54.6,627.3 55.1,627.3 55.5,627.3 56.0,627.3 56.5,627.3 56.9,627.3 57.4,627.2 57.9,627.1 58.3,626.8 58.8,626.2 59.2,625.1 59.7,623.1 60.2,619.8 60.6,614.3 61.1,606.2 61.6,594.5 62.0,578.9 62.5,559.1 63.0,535.5 63.4,508.9 63.9,480.9 64.4,452.9 64.8,426.9 65.3,404.1 65.8,385.5 66.2,371.4 66.7,361.8 67.2,356.1 67.6,353.4 68.1,353.1 68.5,354.3 69.0,356.4 69.5,359.2 69.9,362.2 70.4,365.4 70.9,368.6 71.3,371.8 71.8,375.0 72.3,378.2 72.7,381.2 73.2,384.3 73.7,387.3 74.1,390.2 74.6,393.1 75.1,396.0 75.5,398.8 76.0,401.5 76.5,404.3 76.9,406.9 77.4,409.6 77.8,412.2 78.3,414.7 78.8,417.2 79.2,419.7 79.7,422.1 80.2,424.5 80.6,426.9 81.1,429.2 81.6,431.5 82.0,433.8 82.5,436.0 83.0,438.2 83.4,440.3 83.9,442.4 84.4,444.5 84.8,446.6 85.3,448.6 85.8,450.6 86.2,452.5 86.7,454.5 87.1,456.4 87.6,458.3 88.1,460.1 88.5,461.9 89.0,463.7 89.5,465.5 89.9,467.2 90.4,468.9 90.9,470.6 91.3,472.3 91.8,473.9 92.3,475.5 92.7,477.1 93.2,478.7 93.7,480.2 94.1,481.7 94.6,483.2 95.1,484.7 95.5,486.2 96.0,487.6 96.4,489.0 96.9,490.4 97.4,491.8 97.8,493.1 98.3,494.4 98.8,495.8 99.2,497.1 99.7,498.3 100.2,499.6 100.6,500.8 101.1,502.0 101.6,503.3 102.0,504.4 102.5,505.6 103.0,506.8 103.4,507.9 103.9,509.0 104.4,510.1 104.8,511.2 105.3,512.3 105.7,513.4 106.2,514.4 106.7,515.4 107.1,516.5 107.6,517.5 108.1,518.5 108.5,519.4 109.0,520.4 109.5,521.3 113.0,528.1 116.4,534.2 119.9,539.7 123.4,544.7 126.9,549.3 130.4,553.5 133.9,557.4 137.4,560.9 140.9,564.2 144.3,567.2 147.8,569.9 151.3,572.5 154.8,574.9 158.3,577.2 161.8,579.3 165.3,581.2 168.8,583.1 172.2,584.8 175.7,586.4 179.2,588.0 182.7,589.5 186.2,590.8 189.7,592.2 193.2,593.4 196.7,594.6 200.1,595.8 203.6,596.8 207.1,597.9 210.6,598.9 214.1,599.8 217.6,600.8 221.1,601.7 224.6,602.5 228.0,603.3 231.5,604.1 235.0,604.9 238.5,605.6 242.0,606.3 245.5,607.0 249.0,607.6 252.5,608.2 255.9,608.9 259.4,609.4 262.9,610.0 266.4,610.6 269.9,611.1 273.4,611.6 276.9,612.1 280.4,612.6 283.8,613.0 287.3,613.5 290.8,613.9 294.3,614.4 297.8,614.8 301.3,615.2 304.8,615.5 308.3,615.9 311.7,616.3 315.2,616.6 318.7,616.9 322.2,617.3 325.7,617.6 329.2,617.9 332.7,618.2 336.2,618.5 339.6,618.7 343.1,619.0 346.6,619.3 350.1,619.5 353.6,619.8 357.1,620.0 360.6,620.2 364.1,620.4 367.5,620.7 371.0,620.9 374.5,621.1 378.0,621.3 381.5,621.5 385.0,621.6 388.5,621.8 392.0,622.0 395.4,622.1 398.9,622.3 402.4,622.5 405.9,622.6 409.4,622.8 412.9,622.9 416.4,623.0 419.9,623.2 423.3,623.3 426.8,623.4 430.3,623.5 433.8,623.7 437.3,623.8 440.8,623.9 444.3,624.0 447.8,624.1 451.2,624.2 454.7,624.3 458.2,624.4 461.7,624.5 465.2,624.6 468.7,624.7 472.2,624.7 475.7,624.8 479.1,624.9 482.6,625.0" stroke="#ff0000" stroke-width="3.4" fill="none" stroke-linejoin="round"/>
</g>
<rect x="232.5" y="5.4" width="248.8" height="184.79999999999998" fill="#fff"/>
<line x1="232.5" y1="178.6" x2="481.3" y2="178.6" stroke="#b4b4b4" stroke-width="2.2" stroke-dasharray="28.4 9.9" stroke-dashoffset="-0.7"/>
<g clip-path="url(#cD)" stroke="#ff0000" stroke-width="3" fill="none"><path d="M232.6,165.4 242.5,145.7 249.4,125.1 256.8,103.7" stroke-dasharray="16 5.5"/>
<path d="M256.8,103.7 264.2,78.1 268.2,67.5 272.3,60.9 274.5,54.4 276.4,53.0 278.4,44.5 282.2,42.0 284.6,42.0 290.4,26.1 292.5,24.8 294.5,21.2 297.0,28.1 300.2,25.1 304.7,33.0 307.1,26.8 310.9,41.2 315.0,31.4 319.1,40.4 321.1,32.2 323.2,47.8 326.5,48.6 329.0,44.2 332.3,52.7 335.7,53.1 337.4,63.0 339.0,55.6 341.5,63.0 344.8,69.6 347.2,65.5 348.9,70.4 351.4,68.7 357.1,79.4 359.6,82.7 362.9,90.9 365.3,89.3 367.8,95.9 371.9,96.7 376.0,104.1 378.0,102.4 383.4,113.1 385.9,110.6 390.0,109.8 396.5,122.1 401.5,119.7 402.7,119.8 408.0,135.9 417.0,127.9 421.1,135.0 424.1,133.2 428.6,146.6 432.2,152.9 436.6,155.6 441.1,160.0 449.1,166.3 455.4,168.1 461.6,170.7 469.7,172.9 475.0,173.4 481.3,174.3" stroke-linejoin="round"/></g>
<path d="M232.5,5.4 L232.5,190.2 L481.3,190.2" stroke="#000" stroke-width="2.4" fill="none"/>
<line x1="252.5" y1="190.2" x2="252.5" y2="180.3" stroke="#000" stroke-width="2.2"/>
<line x1="293.1" y1="190.2" x2="293.1" y2="184.0" stroke="#000" stroke-width="2.2"/>
<line x1="333.8" y1="190.2" x2="333.8" y2="180.3" stroke="#000" stroke-width="2.2"/>
<line x1="374.4" y1="190.2" x2="374.4" y2="184.0" stroke="#000" stroke-width="2.2"/>
<line x1="415.0" y1="190.2" x2="415.0" y2="180.3" stroke="#000" stroke-width="2.2"/>
<line x1="455.6" y1="190.2" x2="455.6" y2="184.0" stroke="#000" stroke-width="2.2"/>
<text transform="translate(252.5,216.4)" font-size="19" text-anchor="middle">800</text>
<text transform="translate(333.8,216.4)" font-size="19" text-anchor="middle">900</text>
<text transform="translate(415.0,216.4)" font-size="19" text-anchor="middle">1000</text>
<text transform="translate(356.4,236.8)" font-size="19" text-anchor="middle">Wavelength (nm)</text>
<text transform="translate(420,40.5)" font-size="19" text-anchor="middle">Pfr State</text>
<text transform="translate(417.5,61.2)" font-size="19" text-anchor="middle">WT</text>
<text transform="translate(316,115.8)" font-size="18.6" text-anchor="middle">Transient</text>
<text transform="translate(315.7,136.8)" font-size="18.6" text-anchor="middle">Emission</text>
<text transform="translate(315.6,159.3)" font-size="18.6" text-anchor="middle">(ΔT = 1 ps)</text>
<rect x="232.5" y="330.4" width="248.8" height="183.89999999999998" fill="#fff"/>
<line x1="232.5" y1="499.7" x2="481.3" y2="499.7" stroke="#b4b4b4" stroke-width="2.2" stroke-dasharray="22 10" stroke-dashoffset="-10.5"/>
<g clip-path="url(#cC)"><g stroke="#7000ff" fill="none" stroke-width="1">
<rect x="229.6" y="499.2" width="5.8" height="5.4"/>
<rect x="230.7" y="500.7" width="5.8" height="5.4"/>
<rect x="231.8" y="497.7" width="5.8" height="5.4"/>
<rect x="232.9" y="495.8" width="5.8" height="5.4"/>
<rect x="234.0" y="493.7" width="5.8" height="5.4"/>
<rect x="235.2" y="489.2" width="5.8" height="5.4"/>
<rect x="235.7" y="466.4" width="5.8" height="5.4"/>
<rect x="235.9" y="457.2" width="5.8" height="5.4"/>
<rect x="236.0" y="441.7" width="5.8" height="5.4"/>
<rect x="236.1" y="427.0" width="5.8" height="5.4"/>
<rect x="236.3" y="418.0" width="5.8" height="5.4"/>
<rect x="236.4" y="409.3" width="5.8" height="5.4"/>
<rect x="236.5" y="396.0" width="5.8" height="5.4"/>
<rect x="236.7" y="377.2" width="5.8" height="5.4"/>
<rect x="236.8" y="370.9" width="5.8" height="5.4"/>
<rect x="236.9" y="367.6" width="5.8" height="5.4"/>
<rect x="237.1" y="355.9" width="5.8" height="5.4"/>
<rect x="237.2" y="353.5" width="5.8" height="5.4"/>
<rect x="237.4" y="348.1" width="5.8" height="5.4"/>
<rect x="237.5" y="345.1" width="5.8" height="5.4"/>
<rect x="237.6" y="344.1" width="5.8" height="5.4"/>
<rect x="237.6" y="340.4" width="5.8" height="5.4"/>
<rect x="238.7" y="345.2" width="5.8" height="5.4"/>
<rect x="239.7" y="353.5" width="5.8" height="5.4"/>
<rect x="240.7" y="357.2" width="5.8" height="5.4"/>
<rect x="241.7" y="362.2" width="5.8" height="5.4"/>
<rect x="242.8" y="375.4" width="5.8" height="5.4"/>
<rect x="244.0" y="378.0" width="5.8" height="5.4"/>
<rect x="245.3" y="386.6" width="5.8" height="5.4"/>
<rect x="246.7" y="391.0" width="5.8" height="5.4"/>
<rect x="248.2" y="400.9" width="5.8" height="5.4"/>
<rect x="249.9" y="404.1" width="5.8" height="5.4"/>
<rect x="251.7" y="411.0" width="5.8" height="5.4"/>
<rect x="253.7" y="418.4" width="5.8" height="5.4"/>
<rect x="255.9" y="427.1" width="5.8" height="5.4"/>
<rect x="258.3" y="431.6" width="5.8" height="5.4"/>
<rect x="260.9" y="439.7" width="5.8" height="5.4"/>
<rect x="263.7" y="446.4" width="5.8" height="5.4"/>
<rect x="266.7" y="447.5" width="5.8" height="5.4"/>
<rect x="270.1" y="456.5" width="5.8" height="5.4"/>
<rect x="273.7" y="454.9" width="5.8" height="5.4"/>
<rect x="277.7" y="460.6" width="5.8" height="5.4"/>
<rect x="282.0" y="472.3" width="5.8" height="5.4"/>
<rect x="286.8" y="469.5" width="5.8" height="5.4"/>
<rect x="291.9" y="476.6" width="5.8" height="5.4"/>
<rect x="297.5" y="476.4" width="5.8" height="5.4"/>
<rect x="303.6" y="478.9" width="5.8" height="5.4"/>
<rect x="310.3" y="486.9" width="5.8" height="5.4"/>
<rect x="317.6" y="484.0" width="5.8" height="5.4"/>
<rect x="325.5" y="485.8" width="5.8" height="5.4"/>
<rect x="334.1" y="484.0" width="5.8" height="5.4"/>
<rect x="343.6" y="491.4" width="5.8" height="5.4"/>
<rect x="353.8" y="487.4" width="5.8" height="5.4"/>
<rect x="365.0" y="493.7" width="5.8" height="5.4"/>
<rect x="377.2" y="492.6" width="5.8" height="5.4"/>
<rect x="390.5" y="494.9" width="5.8" height="5.4"/>
<rect x="405.0" y="489.3" width="5.8" height="5.4"/>
<rect x="420.7" y="492.5" width="5.8" height="5.4"/>
<rect x="437.9" y="487.9" width="5.8" height="5.4"/>
<rect x="456.7" y="493.5" width="5.8" height="5.4"/>
<rect x="477.1" y="493.3" width="5.8" height="5.4"/>
</g>
<path d="M232.5,499.7 232.6,499.7 232.8,499.7 232.9,499.7 233.0,499.7 233.2,499.7 233.3,499.7 233.5,499.7 233.6,499.7 233.7,499.7 233.9,499.7 234.0,499.7 234.1,499.7 234.3,499.7 234.4,499.7 234.5,499.7 234.7,499.7 234.8,499.7 234.9,499.7 235.1,499.7 235.2,499.7 235.3,499.7 235.5,499.7 235.6,499.7 235.7,499.7 235.9,499.7 236.0,499.7 236.1,499.7 236.3,499.7 236.4,499.7 236.5,499.7 236.7,499.7 236.8,499.7 237.0,499.6 237.1,499.6 237.2,499.5 237.4,499.2 237.5,498.8 237.6,498.2 237.8,497.2 237.9,495.6 238.0,493.2 238.2,489.9 238.3,485.4 238.4,479.4 238.6,471.9 238.7,462.9 238.8,452.3 239.0,440.5 239.1,427.9 239.2,415.0 239.4,402.2 239.5,390.1 239.6,379.1 239.8,369.6 239.9,361.7 240.1,355.4 240.2,350.8 240.3,347.5 240.5,345.5 240.6,344.4 240.7,343.9 240.9,344.0 241.0,344.4 241.1,345.0 241.3,345.8 241.4,346.7 241.5,347.6 241.7,348.5 241.8,349.4 241.9,350.3 242.1,351.2 242.2,352.1 242.3,353.0 242.5,353.9 242.6,354.8 242.7,355.7 242.9,356.6 243.0,357.5 243.2,358.3 243.3,359.2 243.4,360.0 243.6,360.9 243.7,361.7 243.8,362.6 244.0,363.4 244.1,364.2 244.2,365.0 244.4,365.8 244.5,366.6 244.6,367.5 244.8,368.2 244.9,369.0 245.0,369.8 245.2,370.6 245.3,371.4 245.4,372.1 245.6,372.9 245.7,373.7 245.8,374.4 246.0,375.2 246.1,375.9 246.3,376.6 246.4,377.4 246.5,378.1 246.7,378.8 246.8,379.5 246.9,380.2 247.1,380.9 247.2,381.6 247.3,382.3 247.5,383.0 247.6,383.7 247.7,384.4 247.9,385.1 248.0,385.7 248.1,386.4 248.3,387.1 248.4,387.7 248.5,388.4 248.7,389.0 248.8,389.7 248.9,390.3 249.1,390.9 249.2,391.6 249.4,392.2 249.5,392.8 249.6,393.4 249.8,394.1 249.9,394.7 250.0,395.3 250.2,395.9 250.3,396.5 250.4,397.1 250.5,397.2 252.3,404.7 254.1,411.6 255.9,417.8 257.7,423.5 259.5,428.7 261.3,433.4 263.1,437.8 264.8,441.8 266.6,445.4 268.4,448.8 270.2,451.8 272.0,454.6 273.8,457.2 275.6,459.6 277.4,461.8 279.2,463.9 281.0,465.7 282.8,467.5 284.6,469.1 286.4,470.6 288.2,471.9 290.0,473.2 291.8,474.4 293.6,475.5 295.4,476.6 297.2,477.6 299.0,478.5 300.8,479.3 302.6,480.1 304.4,480.9 306.2,481.6 308.0,482.3 309.8,482.9 311.6,483.5 313.4,484.0 315.2,484.6 317.0,485.1 318.8,485.6 320.6,486.0 322.3,486.5 324.1,486.9 325.9,487.3 327.7,487.7 329.5,488.0 331.3,488.4 333.1,488.7 334.9,489.0 336.7,489.4 338.5,489.6 340.3,489.9 342.1,490.2 343.9,490.5 345.7,490.7 347.5,491.0 349.3,491.2 351.1,491.5 352.9,491.7 354.7,491.9 356.5,492.1 358.3,492.3 360.1,492.5 361.9,492.7 363.7,492.9 365.5,493.1 367.3,493.2 369.1,493.4 370.9,493.6 372.7,493.7 374.5,493.9 376.3,494.0 378.0,494.2 379.8,494.3 381.6,494.5 383.4,494.6 385.2,494.7 387.0,494.8 388.8,495.0 390.6,495.1 392.4,495.2 394.2,495.3 396.0,495.4 397.8,495.5 399.6,495.6 401.4,495.8 403.2,495.9 405.0,495.9 406.8,496.0 408.6,496.1 410.4,496.2 412.2,496.3 414.0,496.4 415.8,496.5 417.6,496.6 419.4,496.6 421.2,496.7 423.0,496.8 424.8,496.9 426.6,496.9 428.4,497.0 430.2,497.1 432.0,497.1 433.7,497.2 435.5,497.3 437.3,497.3 439.1,497.4 440.9,497.4 442.7,497.5 444.5,497.6 446.3,497.6 448.1,497.7 449.9,497.7 451.7,497.8 453.5,497.8 455.3,497.9 457.1,497.9 458.9,498.0 460.7,498.0 462.5,498.0 464.3,498.1 466.1,498.1 467.9,498.2 469.7,498.2 471.5,498.2 473.3,498.3 475.1,498.3 476.9,498.3 478.7,498.4 480.5,498.4" stroke="#7000ff" stroke-width="3" fill="none" stroke-linejoin="round"/>
</g>
<path d="M232.5,330.4 L232.5,514.3 L481.3,514.3" stroke="#000" stroke-width="2.4" fill="none"/>
<line x1="239.2" y1="514.3" x2="239.2" y2="505.5" stroke="#000" stroke-width="2.2"/>
<line x1="250.4" y1="514.3" x2="250.4" y2="508.3" stroke="#000" stroke-width="2.2"/>
<line x1="261.7" y1="514.3" x2="261.7" y2="508.3" stroke="#000" stroke-width="2.2"/>
<line x1="272.9" y1="514.3" x2="272.9" y2="508.3" stroke="#000" stroke-width="2.2"/>
<line x1="284.1" y1="514.3" x2="284.1" y2="508.3" stroke="#000" stroke-width="2.2"/>
<line x1="295.3" y1="514.3" x2="295.3" y2="505.5" stroke="#000" stroke-width="2.2"/>
<line x1="306.6" y1="514.3" x2="306.6" y2="508.3" stroke="#000" stroke-width="2.2"/>
<line x1="317.8" y1="514.3" x2="317.8" y2="508.3" stroke="#000" stroke-width="2.2"/>
<line x1="329.0" y1="514.3" x2="329.0" y2="508.3" stroke="#000" stroke-width="2.2"/>
<line x1="340.3" y1="514.3" x2="340.3" y2="508.3" stroke="#000" stroke-width="2.2"/>
<line x1="351.5" y1="514.3" x2="351.5" y2="505.5" stroke="#000" stroke-width="2.2"/>
<line x1="362.7" y1="514.3" x2="362.7" y2="508.3" stroke="#000" stroke-width="2.2"/>
<line x1="374.0" y1="514.3" x2="374.0" y2="508.3" stroke="#000" stroke-width="2.2"/>
<line x1="385.2" y1="514.3" x2="385.2" y2="508.3" stroke="#000" stroke-width="2.2"/>
<line x1="396.4" y1="514.3" x2="396.4" y2="508.3" stroke="#000" stroke-width="2.2"/>
<line x1="407.6" y1="514.3" x2="407.6" y2="505.5" stroke="#000" stroke-width="2.2"/>
<line x1="418.9" y1="514.3" x2="418.9" y2="508.3" stroke="#000" stroke-width="2.2"/>
<line x1="430.1" y1="514.3" x2="430.1" y2="508.3" stroke="#000" stroke-width="2.2"/>
<line x1="441.3" y1="514.3" x2="441.3" y2="508.3" stroke="#000" stroke-width="2.2"/>
<line x1="452.6" y1="514.3" x2="452.6" y2="508.3" stroke="#000" stroke-width="2.2"/>
<line x1="463.8" y1="514.3" x2="463.8" y2="505.5" stroke="#000" stroke-width="2.2"/>
<line x1="475.0" y1="514.3" x2="475.0" y2="508.3" stroke="#000" stroke-width="2.2"/>
<text transform="translate(239.2,540.4)" font-size="18.6" text-anchor="middle">0</text>
<text transform="translate(295.3,540.4)" font-size="18.6" text-anchor="middle">25</text>
<text transform="translate(351.5,540.4)" font-size="18.6" text-anchor="middle">50</text>
<text transform="translate(407.6,540.4)" font-size="18.6" text-anchor="middle">75</text>
<text transform="translate(463.8,540.4)" font-size="18.6" text-anchor="middle">100</text>
<text transform="translate(281.1,563.6)" font-size="19">Delay Times (ps)</text>
<rect x="39.6" y="5.4" width="441.7" height="649.7" stroke="#000" stroke-width="2.5" fill="none"/>
<line x1="39.6" y1="330.4" x2="481.3" y2="330.4" stroke="#000" stroke-width="2.5"/>
<line x1="62.9" y1="330.4" x2="62.9" y2="318.6" stroke="#000" stroke-width="2.4"/>
<line x1="86.1" y1="330.4" x2="86.1" y2="321.5" stroke="#000" stroke-width="2.4"/>
<line x1="109.3" y1="330.4" x2="109.3" y2="321.5" stroke="#000" stroke-width="2.4"/>
<line x1="132.6" y1="330.4" x2="132.6" y2="321.5" stroke="#000" stroke-width="2.4"/>
<line x1="155.8" y1="330.4" x2="155.8" y2="318.6" stroke="#000" stroke-width="2.4"/>
<line x1="179.1" y1="330.4" x2="179.1" y2="321.5" stroke="#000" stroke-width="2.4"/>
<line x1="202.3" y1="330.4" x2="202.3" y2="321.5" stroke="#000" stroke-width="2.4"/>
<line x1="225.6" y1="330.4" x2="225.6" y2="321.5" stroke="#000" stroke-width="2.4"/>
<line x1="248.8" y1="330.4" x2="248.8" y2="318.6" stroke="#000" stroke-width="2.4"/>
<line x1="272.1" y1="330.4" x2="272.1" y2="321.5" stroke="#000" stroke-width="2.4"/>
<line x1="295.4" y1="330.4" x2="295.4" y2="321.5" stroke="#000" stroke-width="2.4"/>
<line x1="318.6" y1="330.4" x2="318.6" y2="321.5" stroke="#000" stroke-width="2.4"/>
<line x1="341.9" y1="330.4" x2="341.9" y2="318.6" stroke="#000" stroke-width="2.4"/>
<line x1="365.1" y1="330.4" x2="365.1" y2="321.5" stroke="#000" stroke-width="2.4"/>
<line x1="388.4" y1="330.4" x2="388.4" y2="321.5" stroke="#000" stroke-width="2.4"/>
<line x1="411.6" y1="330.4" x2="411.6" y2="321.5" stroke="#000" stroke-width="2.4"/>
<line x1="434.9" y1="330.4" x2="434.9" y2="318.6" stroke="#000" stroke-width="2.4"/>
<line x1="458.1" y1="330.4" x2="458.1" y2="321.5" stroke="#000" stroke-width="2.4"/>
<line x1="481.4" y1="330.4" x2="481.4" y2="321.5" stroke="#000" stroke-width="2.4"/>
<line x1="62.9" y1="655.1" x2="62.9" y2="643.3" stroke="#000" stroke-width="2.4"/>
<line x1="86.1" y1="655.1" x2="86.1" y2="646.2" stroke="#000" stroke-width="2.4"/>
<line x1="109.3" y1="655.1" x2="109.3" y2="646.2" stroke="#000" stroke-width="2.4"/>
<line x1="132.6" y1="655.1" x2="132.6" y2="646.2" stroke="#000" stroke-width="2.4"/>
<line x1="155.8" y1="655.1" x2="155.8" y2="643.3" stroke="#000" stroke-width="2.4"/>
<line x1="179.1" y1="655.1" x2="179.1" y2="646.2" stroke="#000" stroke-width="2.4"/>
<line x1="202.3" y1="655.1" x2="202.3" y2="646.2" stroke="#000" stroke-width="2.4"/>
<line x1="225.6" y1="655.1" x2="225.6" y2="646.2" stroke="#000" stroke-width="2.4"/>
<line x1="248.8" y1="655.1" x2="248.8" y2="643.3" stroke="#000" stroke-width="2.4"/>
<line x1="272.1" y1="655.1" x2="272.1" y2="646.2" stroke="#000" stroke-width="2.4"/>
<line x1="295.4" y1="655.1" x2="295.4" y2="646.2" stroke="#000" stroke-width="2.4"/>
<line x1="318.6" y1="655.1" x2="318.6" y2="646.2" stroke="#000" stroke-width="2.4"/>
<line x1="341.9" y1="655.1" x2="341.9" y2="643.3" stroke="#000" stroke-width="2.4"/>
<line x1="365.1" y1="655.1" x2="365.1" y2="646.2" stroke="#000" stroke-width="2.4"/>
<line x1="388.4" y1="655.1" x2="388.4" y2="646.2" stroke="#000" stroke-width="2.4"/>
<line x1="411.6" y1="655.1" x2="411.6" y2="646.2" stroke="#000" stroke-width="2.4"/>
<line x1="434.9" y1="655.1" x2="434.9" y2="643.3" stroke="#000" stroke-width="2.4"/>
<line x1="458.1" y1="655.1" x2="458.1" y2="646.2" stroke="#000" stroke-width="2.4"/>
<line x1="481.4" y1="655.1" x2="481.4" y2="646.2" stroke="#000" stroke-width="2.4"/>
<text transform="translate(62.9,686.0)" font-size="22" text-anchor="middle">0</text>
<text transform="translate(155.8,686.0)" font-size="22" text-anchor="middle">4</text>
<text transform="translate(248.8,686.0)" font-size="22" text-anchor="middle">8</text>
<text transform="translate(341.9,686.0)" font-size="22" text-anchor="middle">12</text>
<text transform="translate(434.9,686.0)" font-size="22" text-anchor="middle">16</text>
<text transform="translate(256.5,718.5)" font-size="22" text-anchor="middle">Delay Times (ps)</text>
<rect x="323.3" y="272" width="115.7" height="159.3" fill="#fff" stroke="#222" stroke-width="1.2"/>
<line x1="329.8" y1="284.3" x2="356.3" y2="284.3" stroke="#007a00" stroke-width="2.2"/>
<g stroke="#007a00" fill="none" stroke-width="1"><path d="M335.5,279.9h15.6L343.3,293.0z"/></g>
<text transform="translate(374.6,291.5)" font-size="19.7">Q188L</text>
<line x1="329.8" y1="311.6" x2="356.3" y2="311.6" stroke="#ff7a00" stroke-width="2.2"/>
<g stroke="#ff7a00" fill="none" stroke-width="1"><path d="M343.3,303.8L350.4,307.7L350.4,315.5L343.3,319.4L336.2,315.5L336.2,307.7z"/></g>
<text transform="translate(374.6,318.8)" font-size="19.7">H277A</text>
<line x1="329.8" y1="338.9" x2="356.3" y2="338.9" stroke="#007b7b" stroke-width="2.2"/>
<g stroke="#007b7b" fill="none" stroke-width="1"><path d="M343.3,330.5L350.7,338.9L343.3,347.3L335.9,338.9z"/></g>
<text transform="translate(374.6,346.1)" font-size="19.7">S261A</text>
<line x1="329.8" y1="366.2" x2="356.3" y2="366.2" stroke="#0000ff" stroke-width="2.2"/>
<g stroke="#0000ff" fill="none" stroke-width="1"><path d="M335.5,370.6h15.6L343.3,357.5z"/></g>
<text transform="translate(374.6,373.4)" font-size="19.7">S275A</text>
<line x1="329.8" y1="393.5" x2="356.3" y2="393.5" stroke="#ff0000" stroke-width="2.2"/>
<g stroke="#ff0000" fill="none" stroke-width="1"><circle cx="343.3" cy="393.5" r="7.8"/></g>
<text transform="translate(374.6,400.7)" font-size="19.7">WT</text>
<line x1="329.8" y1="420.8" x2="356.3" y2="420.8" stroke="#7000ff" stroke-width="2.2"/>
<g stroke="#7000ff" fill="none" stroke-width="1"><rect x="336.4" y="414.4" width="13.7" height="12.8"/></g>
<text transform="translate(374.6,428.0)" font-size="19.7">Y250F</text>
<text transform="translate(6.4,22.8)" font-size="26" font-weight="bold">A</text>
<text transform="translate(6.4,349.0)" font-size="26" font-weight="bold">B</text>
<text transform="translate(20.8,168.0) rotate(-90) scale(1.0,0.98)" font-size="22.1" text-anchor="middle">Normalized Emission</text>
<text transform="translate(20.8,511.0) rotate(-90) scale(1.0,0.98)" font-size="22.1" text-anchor="middle">Normalized ΔA</text>
<g transform="translate(0,0.0)" fill="none" stroke="#000"><path d="M98.8,66.8 C99.4,65.2 100.3,64.4 101.1,64.5 C102.3,64.7 102.9,66 103.3,67.5 L105.5,76.3 C105.9,77.8 106.5,78.5 107.2,78.5 C107.9,78.5 108.3,77.8 108.6,76.9" stroke-width="1.6"/><path d="M103.2,70.3 L99.1,78.3" stroke-width="2.0"/></g>
<text transform="translate(108.9,84.3)" font-size="17">pu</text>
<text transform="translate(127.6,78.5)" font-size="21">= 775 nm</text>
<g transform="translate(0,31.2)" fill="none" stroke="#000"><path d="M98.8,66.8 C99.4,65.2 100.3,64.4 101.1,64.5 C102.3,64.7 102.9,66 103.3,67.5 L105.5,76.3 C105.9,77.8 106.5,78.5 107.2,78.5 C107.9,78.5 108.3,77.8 108.6,76.9" stroke-width="1.6"/><path d="M103.2,70.3 L99.1,78.3" stroke-width="2.0"/></g>
<text transform="translate(108.9,115.5)" font-size="17">fl</text>
<text transform="translate(127.6,109.7)" font-size="21">= 860 nm</text>
<g transform="translate(0,325.5)" fill="none" stroke="#000"><path d="M98.8,66.8 C99.4,65.2 100.3,64.4 101.1,64.5 C102.3,64.7 102.9,66 103.3,67.5 L105.5,76.3 C105.9,77.8 106.5,78.5 107.2,78.5 C107.9,78.5 108.3,77.8 108.6,76.9" stroke-width="1.6"/><path d="M103.2,70.3 L99.1,78.3" stroke-width="2.0"/></g>
<text transform="translate(108.9,409.8)" font-size="17">pu</text>
<text transform="translate(127.6,404.0)" font-size="21">= 785 nm</text>
<g transform="translate(0,356.2)" fill="none" stroke="#000"><path d="M98.8,66.8 C99.4,65.2 100.3,64.4 101.1,64.5 C102.3,64.7 102.9,66 103.3,67.5 L105.5,76.3 C105.9,77.8 106.5,78.5 107.2,78.5 C107.9,78.5 108.3,77.8 108.6,76.9" stroke-width="1.6"/><path d="M103.2,70.3 L99.1,78.3" stroke-width="2.0"/></g>
<text transform="translate(108.9,440.5)" font-size="17">pr</text>
<text transform="translate(127.6,434.7)" font-size="21">= 550 nm</text>
</svg>
</body></html>
